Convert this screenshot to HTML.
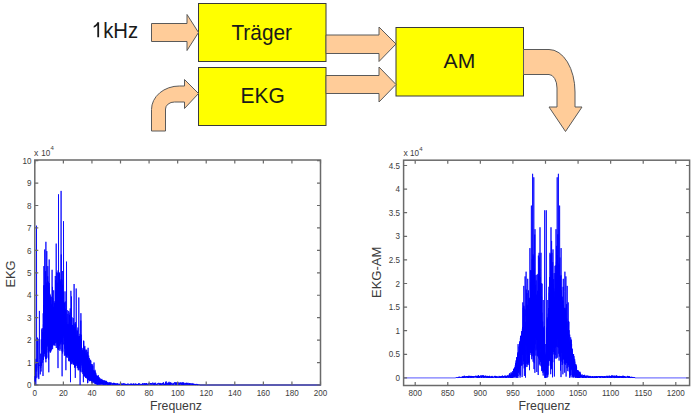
<!DOCTYPE html>
<html><head><meta charset="utf-8"><style>
html,body{margin:0;padding:0;background:#fff;width:697px;height:420px;overflow:hidden}
svg{display:block}
text{font-family:"Liberation Sans",sans-serif}
</style></head><body>
<svg width="697" height="420" viewBox="0 0 697 420">
<rect x="198.5" y="3.5" width="127.5" height="58" fill="#ffff00" stroke="#3a3a3a" stroke-width="1"/>
<rect x="198.5" y="67.5" width="127.5" height="58" fill="#ffff00" stroke="#3a3a3a" stroke-width="1"/>
<rect x="396" y="27.5" width="127.5" height="68.5" fill="#ffff00" stroke="#3a3a3a" stroke-width="1"/>
<path d="M151.5,23.5 H187 V14.5 L198.5,32.5 L187,50.5 V41.5 H151.5 Z" fill="#ffcc99" stroke="#5a5a5a" stroke-width="1"/>
<path d="M326,35 H379 V27 L396,44 L379,61.5 V53.5 H326 Z" fill="#ffcc99" stroke="#5a5a5a" stroke-width="1"/>
<path d="M326,75.5 H379 V67 L396,84.5 L379,102 V93.5 H326 Z" fill="#ffcc99" stroke="#5a5a5a" stroke-width="1"/>
<path d="M151.5,131 V109.5 A28,23.5 0 0 1 179.5,86 H184.5 V79.5 L198.5,93.5 L184.5,108.5 V102 H174.5 A9,7 0 0 0 165.5,109 V131 Z" fill="#ffcc99" stroke="#5a5a5a" stroke-width="1"/>
<path d="M523.5,49.5 H549 A26,42.5 0 0 1 575,92 V107 H582 L565.5,131.5 L549,107 H557 V88 A8,13.5 0 0 0 549,74.5 H523.5 Z" fill="#ffcc99" stroke="#5a5a5a" stroke-width="1"/>
<path d="M97.3,22.3 H99.1 V37.3 H97.3 V25.2 C96.3,26.2 95.1,27.1 93.7,27.8 V26.0 C95.3,25.2 96.6,23.9 97.3,22.3 Z" fill="#1a1a1a"/>
<text transform="translate(103.2,37.5) scale(0.94,1)" font-size="21.6" fill="#1a1a1a" >kHz</text>
<text transform="translate(231.4,39.6) scale(0.965,1)" font-size="21.6" fill="#1a1a1a" >Träger</text>
<text transform="translate(240.6,103.2) scale(0.99,1)" font-size="21.2" fill="#1a1a1a" >EKG</text>
<text x="443.6" y="68.4" font-size="21.1" fill="#1a1a1a" >AM</text>
<rect x="34.8" y="160.0" width="285.70" height="225.00" fill="none" stroke="#6a6a6a" stroke-width="1.5"/>
<polyline points="34.8,385.0 35.0,377.0 35.1,376.1 35.3,382.4 35.5,380.6 35.7,364.2 35.8,384.9 36.0,360.4 36.2,358.8 36.3,371.6 36.5,225.7 36.7,377.5 36.9,378.2 37.0,372.2 37.2,370.1 37.4,368.2 37.5,337.6 37.7,356.7 37.9,364.2 38.1,338.8 38.2,376.4 38.4,377.3 38.6,362.8 38.7,379.1 38.9,378.7 39.1,364.9 39.3,366.0 39.4,310.9 39.6,359.5 39.8,363.0 39.9,363.0 40.1,369.5 40.3,374.4 40.5,369.7 40.6,353.7 40.8,367.9 41.0,362.1 41.1,371.5 41.3,339.4 41.5,365.9 41.7,361.4 41.8,329.4 42.0,349.6 42.2,328.1 42.3,340.2 42.5,332.2 42.7,362.7 42.9,341.4 43.0,376.0 43.2,313.3 43.4,341.2 43.4,324.3 43.5,360.0 43.5,339.1 43.6,343.3 43.6,354.3 43.7,305.1 43.7,339.2 43.8,285.4 43.8,323.8 43.9,322.5 43.9,266.1 44.0,316.5 44.0,353.5 44.1,334.2 44.1,347.7 44.2,336.6 44.2,356.5 44.3,285.1 44.3,348.9 44.4,315.7 44.4,343.0 44.5,296.4 44.5,316.1 44.6,353.8 44.6,298.9 44.7,249.5 44.7,292.0 44.8,322.8 44.8,352.4 44.9,349.3 44.9,288.3 45.0,323.6 45.0,349.8 45.1,293.1 45.1,316.0 45.2,321.7 45.2,336.0 45.3,333.4 45.3,345.3 45.4,358.4 45.4,292.7 45.5,328.8 45.5,322.5 45.6,339.1 45.6,271.1 45.7,358.8 45.7,335.2 45.8,358.3 45.8,352.2 45.9,362.3 45.9,241.8 46.0,330.5 46.0,323.0 46.1,290.7 46.1,336.3 46.2,317.2 46.2,309.1 46.3,335.3 46.3,322.8 46.4,301.5 46.4,285.8 46.5,349.3 46.5,282.7 46.6,358.7 46.6,302.7 46.7,297.1 46.7,350.0 46.8,251.1 46.8,296.6 46.9,357.7 46.9,313.8 47.0,298.9 47.0,323.0 47.1,305.3 47.1,343.6 47.2,345.4 47.2,334.0 47.3,346.5 47.3,335.1 47.4,281.3 47.4,318.2 47.5,335.4 47.5,340.1 47.6,280.9 47.6,327.9 47.7,276.3 47.7,322.6 47.8,322.1 47.8,266.1 47.9,303.9 47.9,317.5 48.0,329.0 48.0,290.5 48.1,330.0 48.1,285.3 48.2,352.5 48.2,328.6 48.3,322.0 48.3,281.7 48.4,340.7 48.4,298.2 48.5,309.7 48.5,306.3 48.6,313.5 48.6,359.6 48.7,335.0 48.7,330.5 48.8,372.3 48.8,352.8 48.9,342.7 48.9,286.8 49.0,295.0 49.0,348.7 49.1,315.4 49.1,324.7 49.2,259.5 49.2,311.8 49.3,336.6 49.3,283.1 49.4,326.4 49.4,315.1 49.5,314.8 49.5,344.3 49.6,351.3 49.6,330.6 49.7,305.9 49.7,301.9 49.8,309.2 49.8,348.3 49.9,293.8 49.9,304.4 50.0,298.1 50.0,324.6 50.1,294.9 50.1,351.5 50.2,352.3 50.2,352.8 50.3,340.6 50.3,340.8 50.4,344.1 50.4,322.7 50.5,351.5 50.5,321.5 50.6,345.1 50.6,316.2 50.7,352.1 50.7,337.7 50.8,296.5 50.8,325.3 50.9,307.9 50.9,318.4 51.0,321.4 51.0,343.7 51.1,323.8 51.1,350.7 51.2,309.9 51.2,296.9 51.3,306.3 51.3,349.9 51.4,336.4 51.4,337.4 51.5,347.0 51.5,321.0 51.6,310.3 51.6,337.4 51.7,305.5 51.7,310.2 51.8,345.8 51.8,312.2 51.9,303.9 51.9,342.5 52.0,323.7 52.0,319.9 52.1,269.8 52.1,346.8 52.2,318.5 52.2,320.2 52.3,308.1 52.3,309.5 52.4,335.9 52.4,314.7 52.5,304.9 52.5,286.9 52.6,343.3 52.6,349.2 52.7,318.8 52.7,340.7 52.8,323.6 52.8,298.2 52.9,332.9 52.9,338.8 53.0,328.9 53.0,318.2 53.1,345.3 53.1,332.5 53.2,343.8 53.2,317.8 53.3,307.2 53.3,332.5 53.4,332.7 53.4,324.3 53.5,339.8 53.5,338.3 53.6,334.5 53.6,328.3 53.7,290.3 53.7,312.1 53.8,322.0 53.8,335.6 53.9,345.3 53.9,311.4 54.0,342.8 54.0,342.7 54.1,342.7 54.1,344.8 54.2,301.3 54.2,336.5 54.3,334.8 54.3,306.7 54.4,319.5 54.4,340.3 54.5,329.0 54.5,303.1 54.6,331.9 54.6,314.5 54.7,344.3 54.7,313.6 54.8,310.6 54.8,307.1 54.9,316.2 54.9,331.8 55.0,345.9 55.0,323.9 55.1,309.4 55.1,340.0 55.2,336.3 55.2,321.8 55.3,276.0 55.3,296.4 55.4,343.0 55.4,340.0 55.5,302.8 55.5,313.3 55.6,307.7 55.6,280.3 55.7,288.0 55.7,296.8 55.8,301.8 55.8,327.4 55.9,311.1 55.9,339.4 56.0,301.4 56.0,301.2 56.1,303.7 56.1,323.1 56.2,327.2 56.2,243.6 56.3,348.0 56.3,291.5 56.4,315.9 56.4,326.5 56.5,315.5 56.5,302.3 56.6,326.9 56.6,292.7 56.7,283.4 56.7,326.6 56.8,342.3 56.8,298.9 56.9,272.2 56.9,341.8 57.0,302.9 57.0,293.0 57.1,282.9 57.1,343.4 57.2,345.3 57.2,273.0 57.3,343.9 57.3,340.3 57.4,313.6 57.4,322.9 57.5,299.6 57.5,339.6 57.6,283.3 57.6,338.0 57.7,297.9 57.7,347.2 57.8,321.0 57.8,349.4 57.9,331.9 57.9,332.1 58.0,368.1 58.0,322.4 58.1,348.2 58.1,270.4 58.2,285.9 58.2,282.6 58.3,336.5 58.3,326.7 58.4,337.8 58.4,344.3 58.5,350.0 58.5,194.3 58.6,344.5 58.6,341.2 58.7,288.6 58.7,320.5 58.8,340.9 58.8,306.1 58.9,335.6 58.9,317.3 59.0,334.5 59.0,318.2 59.1,309.5 59.1,316.7 59.2,326.9 59.2,295.3 59.3,286.9 59.3,341.5 59.4,344.3 59.4,345.8 59.5,272.5 59.5,278.4 59.6,338.3 59.6,274.0 59.7,339.9 59.7,319.0 59.8,319.7 59.8,281.7 59.9,350.8 59.9,332.8 60.0,311.7 60.0,349.3 60.1,338.2 60.1,322.2 60.2,285.5 60.2,297.8 60.3,291.1 60.3,297.7 60.4,302.6 60.4,288.8 60.5,304.9 60.5,300.0 60.6,334.1 60.6,343.2 60.7,298.5 60.7,343.5 60.8,281.3 60.8,312.6 60.9,332.6 60.9,279.5 61.0,344.5 61.0,319.4 61.1,190.9 61.1,275.8 61.2,315.0 61.2,295.3 61.3,254.5 61.3,295.7 61.4,304.9 61.4,310.0 61.5,279.1 61.5,326.3 61.6,327.7 61.6,306.4 61.7,293.2 61.7,333.5 61.8,308.6 61.8,342.0 61.9,318.2 61.9,300.2 62.0,351.3 62.0,304.2 62.1,376.3 62.1,279.8 62.2,324.9 62.2,329.2 62.3,305.4 62.3,321.1 62.4,304.7 62.4,350.6 62.5,318.5 62.5,318.9 62.6,284.7 62.6,353.5 62.7,326.8 62.7,271.0 62.8,319.9 62.8,351.6 62.9,316.9 62.9,342.6 63.0,344.3 63.0,292.2 63.1,344.3 63.1,327.5 63.2,304.8 63.2,308.6 63.3,320.7 63.3,300.1 63.4,327.1 63.4,316.1 63.5,299.8 63.5,221.2 63.6,315.3 63.6,332.1 63.7,321.9 63.7,333.1 63.8,308.3 63.8,334.5 63.9,329.1 63.9,308.3 64.0,327.0 64.0,337.8 64.1,303.2 64.1,335.5 64.2,302.3 64.2,307.8 64.3,331.9 64.3,314.1 64.4,355.7 64.4,336.0 64.5,303.1 64.5,324.5 64.6,326.2 64.6,319.3 64.7,318.7 64.7,325.3 64.8,335.4 64.8,348.6 64.9,342.9 64.9,343.1 65.0,335.7 65.0,291.4 65.1,340.4 65.1,335.4 65.2,339.7 65.2,328.1 65.3,301.5 65.3,307.6 65.4,340.2 65.4,345.9 65.5,309.3 65.5,334.7 65.6,324.0 65.6,355.5 65.7,312.5 65.7,344.6 65.8,335.8 65.8,350.3 65.9,370.2 65.9,317.4 66.0,317.8 66.0,338.1 66.1,322.4 66.1,339.3 66.2,343.4 66.2,335.5 66.3,351.1 66.3,346.2 66.4,327.2 66.4,323.6 66.5,357.2 66.5,261.6 66.6,320.8 66.6,340.7 66.7,357.2 66.7,328.8 66.8,349.7 66.8,331.0 66.9,344.0 66.9,331.4 67.0,349.3 67.0,339.5 67.1,337.2 67.1,331.9 67.2,351.9 67.2,310.1 67.3,348.2 67.3,347.5 67.4,349.8 67.4,357.7 67.5,342.4 67.5,324.2 67.6,327.9 67.6,352.6 67.7,355.1 67.7,347.2 67.8,324.6 67.8,339.6 67.9,314.0 67.9,331.1 68.0,333.0 68.0,324.8 68.1,325.9 68.1,346.5 68.2,350.4 68.2,342.3 68.3,339.9 68.3,355.5 68.4,342.3 68.4,332.4 68.5,355.8 68.5,355.8 68.6,354.3 68.6,349.7 68.7,310.9 68.7,360.6 68.8,354.1 68.8,354.9 68.9,341.1 68.9,361.2 69.0,341.9 69.0,355.2 69.1,350.6 69.1,324.0 69.2,354.4 69.2,334.1 69.3,344.6 69.3,344.1 69.4,322.6 69.4,355.6 69.5,314.9 69.5,317.3 69.6,331.6 69.6,360.5 69.7,332.0 69.7,335.4 69.8,325.7 69.8,353.7 69.9,312.5 69.9,318.1 70.0,358.1 70.0,349.4 70.1,361.6 70.1,322.2 70.2,316.0 70.2,308.4 70.3,335.2 70.3,332.3 70.4,331.6 70.4,337.5 70.5,382.2 70.5,335.6 70.6,349.0 70.6,340.6 70.7,362.7 70.7,329.5 70.8,331.3 70.8,345.4 70.9,321.7 70.9,290.8 71.0,349.5 71.0,360.6 71.1,358.4 71.1,356.3 71.2,351.2 71.2,344.7 71.3,316.8 71.3,352.5 71.4,319.3 71.4,333.2 71.5,322.8 71.5,296.5 71.6,364.2 71.6,327.4 71.7,354.3 71.7,358.7 71.8,326.9 71.8,333.6 71.9,356.0 71.9,353.7 72.0,317.3 72.0,353.8 72.1,333.1 72.1,359.7 72.2,326.7 72.2,360.3 72.3,343.0 72.3,363.6 72.4,341.5 72.4,325.1 72.5,361.8 72.5,354.1 72.6,330.5 72.6,339.0 72.7,352.7 72.7,338.1 72.8,346.6 72.8,324.9 72.9,353.8 72.9,331.5 73.0,338.2 73.0,332.7 73.1,350.4 73.1,333.7 73.2,335.3 73.2,350.2 73.3,364.9 73.3,318.1 73.4,334.8 73.4,358.1 73.5,334.1 73.5,355.2 73.6,347.1 73.6,326.7 73.7,348.2 73.7,355.1 73.8,354.4 73.8,363.5 73.9,358.0 73.9,356.0 74.0,360.0 74.0,364.2 74.1,284.0 74.1,358.5 74.2,334.9 74.2,323.5 74.3,356.4 74.3,343.5 74.4,346.6 74.4,364.2 74.5,362.4 74.5,326.9 74.6,367.7 74.6,332.1 74.7,364.8 74.7,343.1 74.8,328.7 74.8,328.7 74.9,367.2 74.9,346.8 75.0,353.4 75.0,335.4 75.1,364.9 75.1,357.7 75.2,332.7 75.2,349.5 75.3,377.9 75.3,322.1 75.4,355.9 75.4,366.4 75.5,353.1 75.5,362.5 75.6,365.1 75.6,345.9 75.7,324.4 75.7,345.5 75.8,342.5 75.8,356.4 75.9,346.1 75.9,337.6 76.0,345.5 76.0,335.1 76.1,347.4 76.1,361.5 76.2,346.1 76.2,288.5 76.3,306.8 76.3,344.8 76.4,335.0 76.4,364.1 76.5,348.3 76.5,339.7 76.6,354.3 76.6,359.5 76.7,355.6 76.7,348.9 76.8,342.5 76.8,348.3 76.9,365.6 76.9,336.2 77.0,329.8 77.0,366.0 77.1,360.8 77.1,363.6 77.2,335.0 77.2,331.4 77.3,368.2 77.3,358.1 77.4,363.2 77.4,353.0 77.5,331.2 77.5,367.6 77.6,364.2 77.6,352.6 77.7,351.2 77.7,341.6 77.8,354.8 77.8,365.5 77.9,358.1 77.9,327.5 78.0,341.8 78.0,366.6 78.1,339.2 78.1,360.0 78.2,340.8 78.2,370.2 78.3,336.2 78.3,365.3 78.4,355.0 78.4,346.8 78.5,353.2 78.5,365.5 78.6,366.4 78.6,361.6 78.7,369.3 78.7,364.0 78.8,366.9 78.8,297.5 78.9,359.4 78.9,350.8 79.0,362.1 79.0,370.3 79.1,360.5 79.1,344.0 79.2,363.2 79.2,358.2 79.3,344.3 79.3,358.2 79.4,337.8 79.4,336.1 79.5,361.8 79.5,345.7 79.6,363.8 79.6,367.6 79.7,357.7 79.7,351.6 79.8,335.9 79.8,367.6 79.9,347.4 79.9,356.7 80.0,368.2 80.0,333.8 80.1,384.9 80.1,368.5 80.2,338.7 80.2,369.4 80.3,369.7 80.3,362.2 80.4,337.1 80.4,371.7 80.5,338.6 80.5,352.7 80.6,370.8 80.6,354.4 80.7,358.4 80.7,354.8 80.8,320.6 80.8,350.6 80.9,333.3 80.9,313.2 81.0,331.1 81.0,360.6 81.1,346.6 81.1,341.5 81.2,334.7 81.2,365.5 81.3,359.5 81.3,339.0 81.4,338.9 81.4,362.4 81.5,339.5 81.5,361.4 81.6,362.5 81.6,348.9 81.7,359.5 81.7,360.3 81.8,362.4 81.8,361.0 81.9,370.0 81.9,372.3 82.0,349.6 82.0,356.9 82.1,353.1 82.1,347.9 82.2,367.7 82.2,367.7 82.3,366.4 82.3,365.7 82.4,350.1 82.4,363.7 82.5,365.3 82.5,355.2 82.6,369.5 82.6,371.8 82.7,353.2 82.7,351.0 82.8,366.5 82.8,355.7 82.9,374.0 82.9,363.5 83.0,358.0 83.0,368.1 83.1,365.4 83.1,357.1 83.2,357.9 83.2,371.1 83.3,353.9 83.3,373.2 83.4,382.2 83.4,370.0 83.5,368.6 83.5,370.2 83.6,340.6 83.6,367.9 83.7,358.2 83.7,341.0 83.8,344.1 83.8,374.7 83.9,361.3 83.9,358.8 84.0,355.4 84.0,367.0 84.1,367.3 84.1,376.0 84.2,375.3 84.2,360.9 84.3,374.3 84.3,371.1 84.4,367.6 84.4,374.6 84.5,375.7 84.5,347.1 84.6,364.9 84.6,371.4 84.7,356.4 84.7,376.4 84.8,370.5 84.8,345.9 84.9,349.3 84.9,359.3 85.0,374.6 85.0,368.8 85.1,376.3 85.1,371.6 85.2,376.5 85.2,374.1 85.3,360.0 85.3,374.8 85.4,373.5 85.4,350.4 85.5,369.0 85.5,369.1 85.6,375.4 85.6,377.9 85.7,359.4 85.7,363.5 85.8,361.5 85.8,375.4 85.9,371.5 85.9,362.8 86.0,349.4 86.0,355.4 86.1,361.4 86.1,365.0 86.2,377.7 86.2,353.0 86.3,376.6 86.3,375.2 86.4,360.4 86.4,356.5 86.5,357.5 86.5,367.5 86.6,374.4 86.6,377.7 86.7,355.7 86.7,350.0 86.8,373.1 86.8,355.5 86.9,369.4 86.9,371.7 87.0,366.9 87.0,378.7 87.1,368.7 87.1,374.6 87.2,361.5 87.2,367.4 87.3,356.5 87.3,355.6 87.4,372.2 87.4,373.1 87.5,354.1 87.5,383.2 87.6,377.3 87.6,378.5 87.7,351.8 87.7,366.3 87.8,382.9 87.8,368.2 87.9,368.5 87.9,370.3 88.0,354.9 88.0,355.2 88.1,347.8 88.1,376.8 88.2,371.3 88.2,360.1 88.3,366.2 88.3,363.4 88.4,367.6 88.4,375.9 88.5,361.1 88.5,380.0 88.6,364.8 88.6,376.5 88.7,370.6 88.7,355.6 88.8,369.2 88.8,379.4 88.9,371.8 88.9,366.4 89.0,379.6 89.0,375.8 89.1,380.4 89.1,369.7 89.2,373.3 89.2,370.7 89.3,375.2 89.3,367.2 89.4,377.8 89.4,381.2 89.5,358.2 89.5,371.4 89.6,372.1 89.6,362.2 89.7,375.9 89.7,364.1 89.8,376.0 89.8,366.6 89.9,375.2 89.9,369.6 90.0,360.7 90.0,380.7 90.1,364.7 90.1,371.3 90.2,374.8 90.2,375.4 90.3,380.7 90.3,377.3 90.4,369.9 90.4,380.3 90.5,369.0 90.5,360.5 90.6,359.8 90.6,363.4 90.7,365.9 90.7,379.2 90.8,360.8 90.8,378.9 90.9,364.6 90.9,364.4 91.0,371.0 91.0,373.2 91.1,379.3 91.1,373.4 91.2,377.8 91.2,380.7 91.3,380.7 91.3,367.4 91.4,364.0 91.4,380.7 91.5,382.8 91.5,378.7 91.6,380.9 91.6,380.1 91.7,373.0 91.7,376.1 91.8,376.0 91.8,380.0 91.9,371.6 91.9,378.6 92.0,376.8 92.0,375.7 92.1,366.1 92.1,379.5 92.2,370.9 92.2,378.5 92.3,366.8 92.3,377.2 92.4,375.3 92.4,367.6 92.5,372.3 92.5,382.0 92.6,381.4 92.6,364.3 92.7,383.0 92.7,379.0 92.8,365.9 92.8,383.3 92.9,381.2 92.9,380.5 93.0,382.3 93.0,376.6 93.1,374.6 93.1,379.1 93.2,382.1 93.2,370.7 93.3,370.9 93.3,375.5 93.4,381.8 93.4,375.9 93.5,374.5 93.5,377.8 93.6,370.2 93.6,378.4 93.7,376.7 93.7,382.3 93.8,376.0 93.8,372.6 93.9,373.4 93.9,380.5 94.0,362.5 94.0,373.8 94.1,378.4 94.1,378.6 94.2,373.0 94.2,381.7 94.3,375.5 94.3,374.3 94.4,377.4 94.4,371.7 94.5,378.2 94.5,378.3 94.6,380.6 94.6,371.1 94.7,380.3 94.7,375.3 94.8,379.3 94.8,371.2 94.9,371.0 94.9,383.7 95.0,369.8 95.0,377.0 95.1,383.3 95.1,378.5 95.2,383.6 95.2,378.0 95.3,382.2 95.3,380.3 95.4,381.0 95.4,377.6 95.5,374.6 95.5,372.7 95.6,380.9 95.6,378.3 95.7,384.1 95.7,380.6 95.8,372.8 95.8,383.1 95.9,374.7 95.9,377.7 96.0,381.6 96.0,376.3 96.1,381.7 96.1,374.8 96.2,383.6 96.2,383.3 96.3,377.0 96.3,380.3 96.4,383.1 96.4,379.8 96.5,381.8 96.5,379.5 96.6,377.4 96.6,376.0 96.7,383.9 96.7,379.2 96.8,384.6 96.8,380.5 96.9,377.3 96.9,383.7 97.0,376.1 97.0,379.5 97.1,376.0 97.1,377.4 97.2,376.4 97.2,384.1 97.3,378.3 97.3,383.0 97.4,382.5 97.4,382.1 97.5,379.7 97.5,379.4 97.6,375.9 97.6,384.6 97.7,383.2 97.7,381.9 97.8,377.6 97.8,380.4 97.9,380.7 97.9,378.4 98.0,384.9 98.0,382.6 98.1,384.1 98.1,381.3 98.2,377.3 98.2,375.1 98.3,384.4 98.3,381.6 98.4,382.1 98.4,380.5 98.5,380.5 98.5,376.7 98.6,382.5 98.6,382.0 98.7,380.4 98.7,377.8 98.8,379.7 98.8,381.7 98.9,378.7 98.9,381.6 99.0,377.0 99.0,383.1 99.1,384.2 99.1,378.8 99.2,383.1 99.3,378.8 99.4,381.0 99.5,381.8 99.7,384.5 99.8,379.8 99.9,384.6 100.0,378.2 100.1,379.3 100.2,383.4 100.3,384.3 100.5,379.4 100.6,382.4 100.7,384.4 100.8,382.3 100.9,383.8 101.0,382.9 101.1,381.5 101.3,379.5 101.4,380.5 101.5,384.2 101.6,382.6 101.7,382.6 101.8,378.9 101.9,384.6 102.1,382.5 102.2,379.9 102.3,383.1 102.4,383.8 102.5,382.4 102.6,383.6 102.7,380.1 102.9,384.6 103.0,384.1 103.1,384.7 103.2,381.7 103.3,383.8 103.4,380.6 103.5,380.7 103.7,380.4 103.8,384.0 103.9,385.0 104.0,383.5 104.1,380.4 104.2,381.8 104.3,384.8 104.5,382.2 104.6,381.0 104.7,380.6 104.8,382.2 104.9,381.5 105.0,381.6 105.1,383.8 105.3,384.7 105.4,382.3 105.5,384.6 105.6,383.7 105.7,380.8 105.8,383.1 105.9,383.3 106.1,381.3 106.2,384.1 106.3,380.9 106.4,381.6 106.5,383.9 106.6,384.0 106.7,384.6 106.9,381.8 107.0,384.5 107.1,385.0 107.2,382.0 107.3,383.2 107.4,383.0 107.5,382.8 107.7,384.9 107.8,384.8 107.9,383.6 108.0,384.9 108.1,383.6 108.2,382.9 108.3,383.2 108.5,383.3 108.6,384.9 108.7,384.4 108.8,382.4 108.9,384.7 109.0,383.7 109.1,384.9 109.3,382.4 109.4,384.6 109.5,384.1 109.6,383.7 109.7,383.3 109.8,382.6 109.9,383.3 110.1,384.3 110.2,384.9 110.3,383.4 110.4,382.5 110.5,385.0 110.6,383.3 110.7,384.7 110.9,384.1 111.0,383.9 111.1,383.7 111.2,382.5 111.3,383.5 111.4,384.2 111.5,383.5 111.7,384.1 111.8,384.2 111.9,384.3 112.0,384.0 112.1,384.5 112.2,384.5 112.3,384.7 112.5,384.2 112.6,384.5 112.7,383.2 112.8,383.2 112.9,384.4 113.0,383.8 113.1,383.0 113.3,384.3 113.4,383.9 113.5,384.2 113.6,383.7 113.7,382.9 113.8,384.8 113.9,382.8 114.1,383.7 114.2,383.4 114.3,383.8 114.4,383.2 114.5,384.4 114.6,383.6 114.7,384.5 114.9,384.1 115.0,383.7 115.1,384.7 115.2,384.9 115.3,383.5 115.4,383.4 115.5,383.8 115.7,384.5 115.8,383.8 115.9,384.9 116.0,383.8 116.1,384.0 116.2,383.9 116.3,384.3 116.5,384.6 116.6,383.7 116.7,384.2 116.8,383.7 116.9,384.4 117.0,384.9 117.1,384.1 117.3,384.0 117.4,383.3 117.5,383.4 117.6,384.9 117.7,385.0 117.8,384.6 117.9,383.8 118.1,384.4 118.2,384.5 118.3,384.2 118.4,384.2 118.5,383.9 118.6,384.0 118.7,383.9 118.9,384.4 119.0,383.9 119.1,384.5 119.2,384.1 119.3,384.3 119.4,384.2 119.5,385.0 119.7,384.3 119.8,384.7 119.9,384.5 120.0,384.9 120.1,384.0 120.2,383.5 120.3,384.5 120.5,384.9 120.5,384.1 120.7,384.8 120.8,383.6 120.9,384.8 121.1,384.5 121.2,384.3 121.4,384.8 121.5,384.6 121.7,384.6 121.8,384.0 121.9,383.3 122.1,384.5 122.2,383.8 122.4,384.8 122.5,384.2 122.7,384.4 122.8,384.6 122.9,383.8 123.1,383.9 123.2,384.8 123.4,384.6 123.5,383.8 123.7,383.3 123.8,384.2 123.9,383.7 124.1,383.4 124.2,383.9 124.4,384.1 124.5,384.7 124.7,384.5 124.8,384.2 124.9,383.6 125.1,385.0 125.2,384.5 125.4,385.0 125.5,384.0 125.7,384.4 125.8,383.9 125.9,384.7 126.1,384.1 126.2,384.1 126.4,384.4 126.5,384.8 126.7,384.5 126.8,384.0 126.9,384.8 127.1,384.9 127.2,384.4 127.4,384.7 127.5,383.9 127.7,383.9 127.8,383.6 127.9,383.8 128.1,384.2 128.2,384.8 128.4,383.9 128.5,384.0 128.7,384.0 128.8,384.1 128.9,383.9 129.1,384.6 129.2,384.1 129.4,384.4 129.5,384.6 129.7,384.6 129.8,384.8 129.9,384.4 130.1,384.6 130.2,385.0 130.4,383.9 130.5,384.1 130.7,384.1 130.8,383.6 130.9,384.8 131.1,384.4 131.2,384.9 131.4,384.5 131.5,383.7 131.7,384.9 131.8,384.0 131.9,383.9 132.1,384.4 132.2,384.0 132.4,384.5 132.5,384.6 132.7,384.4 132.8,384.8 132.9,384.7 133.1,384.7 133.2,383.6 133.4,384.6 133.5,384.8 133.7,383.7 133.8,384.9 133.9,383.7 134.1,383.9 134.2,384.2 134.4,384.5 134.5,384.8 134.7,384.9 134.8,384.9 134.9,384.6 135.1,384.6 135.2,383.8 135.4,384.4 135.5,383.6 135.7,384.2 135.8,384.9 135.9,384.4 136.1,384.8 136.2,385.0 136.4,383.8 136.5,384.6 136.7,384.8 136.8,384.9 136.9,384.3 137.1,384.5 137.2,385.0 137.4,384.2 137.5,384.7 137.7,384.1 137.8,384.5 137.9,384.4 138.1,384.5 138.2,384.2 138.4,383.6 138.5,384.0 138.7,384.9 138.8,383.3 138.9,384.7 139.1,384.9 139.2,384.8 139.4,384.7 139.5,383.6 139.7,384.0 139.8,383.8 139.9,384.1 140.1,384.6 140.2,384.5 140.4,384.5 140.5,384.6 140.7,384.5 140.8,383.9 140.9,384.9 141.1,384.7 141.2,384.4 141.4,384.1 141.5,384.1 141.7,384.0 141.8,384.9 141.9,384.8 142.1,384.6 142.2,384.6 142.4,383.9 142.5,383.2 142.7,384.0 142.8,385.0 142.9,384.6 143.1,383.7 143.2,383.4 143.4,384.1 143.5,384.5 143.7,384.5 143.8,384.0 143.9,383.5 144.1,384.5 144.2,384.7 144.4,385.0 144.5,384.8 144.7,383.5 144.8,384.0 144.9,383.0 145.1,384.9 145.2,384.4 145.4,383.6 145.5,383.9 145.7,384.9 145.8,384.3 145.9,383.9 146.1,383.8 146.2,384.2 146.4,384.7 146.5,383.0 146.7,384.2 146.8,383.7 146.9,384.0 147.1,384.9 147.2,384.6 147.4,384.9 147.5,384.7 147.7,384.7 147.8,384.3 147.9,384.4 148.1,384.3 148.2,383.3 148.4,385.0 148.5,384.8 148.7,383.3 148.8,384.0 148.9,384.2 149.1,384.5 149.2,383.9 149.4,384.6 149.5,383.1 149.7,383.2 149.8,384.4 149.9,385.0 150.1,383.0 150.2,384.4 150.4,383.6 150.5,383.1 150.7,383.3 150.8,383.1 150.9,384.0 151.1,383.1 151.2,384.1 151.4,384.5 151.5,384.0 151.7,384.3 151.8,383.3 151.9,383.1 152.1,384.7 152.2,384.7 152.4,384.2 152.5,384.0 152.7,382.6 152.8,382.7 152.9,382.6 153.1,383.4 153.2,383.5 153.4,384.5 153.5,384.2 153.7,385.0 153.8,383.0 153.9,384.4 154.1,384.8 154.2,384.4 154.4,384.3 154.5,383.3 154.7,385.0 154.8,385.0 154.9,382.8 155.1,382.9 155.2,383.6 155.4,383.8 155.5,384.5 155.7,382.8 155.8,383.2 155.9,383.9 156.1,384.7 156.2,384.5 156.4,384.2 156.5,384.3 156.7,384.9 156.8,384.1 156.9,384.0 157.1,384.4 157.2,384.2 157.4,384.3 157.5,384.2 157.7,383.5 157.8,383.9 157.9,384.6 158.1,383.0 158.2,383.8 158.4,384.0 158.5,383.3 158.7,383.1 158.8,382.8 158.9,382.9 159.1,383.4 159.2,383.2 159.4,384.7 159.5,383.3 159.7,384.4 159.8,384.4 159.9,384.7 160.1,384.1 160.2,385.0 160.4,383.4 160.5,383.1 160.7,383.0 160.8,384.7 160.9,383.4 161.1,385.0 161.2,384.9 161.4,384.6 161.5,384.4 161.7,383.9 161.8,384.6 161.9,383.7 162.1,384.2 162.2,383.3 162.4,383.7 162.5,383.2 162.7,384.4 162.8,383.1 162.9,383.0 163.1,383.1 163.2,384.8 163.4,382.2 163.5,383.5 163.7,384.3 163.8,383.9 163.9,383.7 164.1,383.7 164.2,384.4 164.4,384.4 164.5,384.1 164.7,385.0 164.8,383.9 164.9,384.9 165.1,383.8 165.2,384.5 165.4,385.0 165.5,381.9 165.7,384.3 165.8,383.6 165.9,384.1 166.1,384.9 166.2,381.4 166.4,382.1 166.5,384.5 166.7,383.9 166.8,384.0 166.9,384.6 167.1,383.2 167.2,382.8 167.4,382.9 167.5,383.2 167.7,385.0 167.8,384.4 167.9,383.7 168.1,383.1 168.2,384.0 168.4,383.9 168.5,382.6 168.7,384.9 168.8,384.3 168.9,384.3 169.1,381.8 169.2,384.5 169.4,384.9 169.5,384.0 169.7,383.3 169.8,384.6 169.9,382.6 170.1,384.5 170.2,383.1 170.4,384.6 170.5,382.5 170.7,384.5 170.8,383.1 170.9,382.7 171.1,384.4 171.2,384.8 171.4,383.5 171.5,383.8 171.7,383.8 171.8,382.9 171.9,383.9 172.1,383.8 172.2,383.8 172.4,383.9 172.5,384.0 172.7,385.0 172.8,384.3 172.9,384.4 173.1,384.4 173.2,382.9 173.4,384.7 173.5,384.5 173.7,383.7 173.8,384.3 173.9,384.5 174.1,384.1 174.2,383.8 174.4,383.3 174.5,382.2 174.7,382.7 174.8,384.0 174.9,383.9 175.1,384.0 175.2,384.5 175.4,382.3 175.5,384.8 175.7,384.5 175.8,383.4 175.9,383.6 176.1,384.4 176.2,382.4 176.4,384.1 176.5,383.6 176.7,384.8 176.8,382.6 176.9,384.8 177.1,384.1 177.2,382.7 177.4,382.4 177.5,382.6 177.7,382.9 177.8,384.5 177.9,384.9 178.1,384.0 178.2,384.9 178.4,382.4 178.5,385.0 178.6,384.3 178.8,384.6 178.9,385.0 179.1,383.9 179.2,384.8 179.4,382.7 179.5,383.4 179.6,384.2 179.8,382.9 179.9,383.1 180.1,384.3 180.2,382.9 180.4,382.6 180.5,383.6 180.6,384.2 180.8,382.7 180.9,382.5 181.1,384.3 181.2,384.8 181.4,382.8 181.5,383.5 181.6,384.5 181.8,383.7 181.9,384.4 182.1,382.7 182.2,384.3 182.4,384.6 182.5,384.9 182.6,384.3 182.8,382.3 182.9,384.6 183.1,384.0 183.2,382.5 183.4,385.0 183.5,384.4 183.6,383.1 183.8,384.8 183.9,382.7 184.1,383.0 184.2,384.7 184.4,383.7 184.5,383.8 184.6,383.5 184.8,384.4 184.9,384.2 185.1,384.5 185.2,384.4 185.4,384.7 185.5,382.9 185.6,383.0 185.8,384.3 185.9,383.6 186.1,384.0 186.2,384.5 186.4,384.3 186.5,382.8 186.6,384.4 186.8,383.9 186.9,382.9 187.1,384.5 187.2,383.4 187.4,384.8 187.5,383.6 187.6,383.4 187.8,383.3 187.9,382.9 188.1,383.7 188.2,382.9 188.4,384.5 188.5,384.1 188.6,384.7 188.8,384.9 188.9,384.3 189.1,383.7 189.2,383.6 189.4,385.0 189.5,383.2 189.6,384.6 189.8,384.6 189.9,383.6 190.1,383.4 190.2,383.8 190.4,384.5 190.5,384.3 190.6,383.6 190.8,384.5 190.9,383.7 191.1,383.8 191.2,384.3 191.4,383.5 191.5,384.5 191.6,383.9 191.8,384.1 191.9,384.6 192.1,384.3 192.2,384.2 192.4,384.3 192.5,384.9 192.6,383.4 192.8,383.5 192.9,385.0 193.1,383.6 193.2,384.3 193.4,384.9 193.5,383.9 193.6,384.5 193.8,384.1 193.9,384.0 194.1,384.4 194.2,384.9 194.4,384.0 194.5,384.2 194.6,383.9 194.8,384.7 194.9,384.1 195.1,384.0 195.2,384.7 195.4,384.6 195.5,384.7 195.6,385.0 195.8,385.0 195.9,384.7 196.1,384.9 196.2,384.3 196.4,384.7 196.5,384.6 196.6,384.8 196.8,383.9 196.9,384.5 197.1,384.7 197.2,384.6 197.4,384.1 197.5,384.7 197.6,385.0 197.8,384.9 197.9,384.8 198.1,384.7 198.2,385.0 198.4,385.0 198.5,384.8 198.6,384.9 198.8,384.7 198.9,384.7 199.1,384.8 199.2,384.7 199.4,385.0 199.5,384.9 199.6,384.9 199.8,384.9 199.9,384.9 200.1,385.0 200.2,385.0 200.4,385.0 200.5,385.0 200.6,385.0 200.8,385.0 200.9,385.0 201.1,385.0 201.2,385.0 201.4,385.0 201.5,385.0 201.6,385.0 201.8,385.0 201.9,385.0 202.1,385.0 202.2,385.0 202.4,385.0 202.5,385.0 202.6,385.0 202.8,385.0 202.9,385.0 203.1,385.0 203.2,385.0 203.4,385.0 203.5,385.0 203.6,385.0 203.8,385.0 203.9,385.0 204.1,385.0 204.2,385.0 204.4,385.0 204.5,385.0 204.6,385.0 204.8,385.0 204.9,385.0 205.1,385.0 205.2,385.0 205.4,385.0 205.5,385.0 205.6,385.0 205.8,385.0 205.9,385.0 206.1,385.0 206.2,385.0 206.4,385.0 206.5,385.0 206.6,385.0 206.8,385.0 206.9,385.0 207.1,385.0 207.2,385.0 207.4,385.0 207.5,385.0 207.6,385.0 207.8,385.0 207.9,385.0 208.1,385.0 208.2,385.0 208.4,385.0 208.5,385.0 208.6,385.0 208.8,385.0 208.9,385.0 209.1,385.0 209.2,385.0 209.4,385.0 209.5,385.0 209.6,385.0 209.8,385.0 209.9,385.0 210.1,385.0 210.2,385.0 210.4,385.0 210.5,385.0 210.6,385.0 210.8,385.0 210.9,385.0 211.1,385.0 211.2,385.0 211.4,385.0 211.5,385.0 211.6,385.0 211.8,385.0 211.9,385.0 212.1,385.0 212.2,385.0 212.4,385.0 212.5,385.0 212.6,385.0 212.8,385.0 212.9,385.0 213.1,385.0 213.2,385.0 213.4,385.0 213.5,385.0 213.6,385.0 213.8,385.0 213.9,385.0 214.1,385.0 214.2,385.0 214.4,385.0 214.5,385.0 214.6,385.0 214.8,385.0 214.9,385.0 215.1,385.0 215.2,385.0 215.4,385.0 215.5,385.0 215.6,385.0 215.8,385.0 215.9,385.0 216.1,385.0 216.2,385.0 216.4,385.0 216.5,385.0 216.6,385.0 216.8,385.0 216.9,385.0 217.1,385.0 217.2,385.0 217.4,385.0 217.5,385.0 217.6,385.0 217.8,385.0 217.9,385.0 218.1,385.0 218.2,385.0 218.4,385.0 218.5,385.0 218.6,385.0 218.8,385.0 218.9,385.0 219.1,385.0 219.2,385.0 219.4,385.0 219.5,385.0 219.6,385.0 219.8,385.0 219.9,385.0 220.1,385.0 220.2,385.0 220.4,385.0 220.5,385.0 220.6,385.0 220.8,385.0 220.9,385.0 221.1,385.0 221.2,385.0 221.4,385.0 221.5,385.0 221.6,385.0 221.8,385.0 221.9,385.0 222.1,385.0 222.2,385.0 222.4,385.0 222.5,385.0 222.6,385.0 222.8,385.0 222.9,385.0 223.1,385.0 223.2,385.0 223.4,385.0 223.5,385.0 223.6,385.0 223.8,385.0 223.9,385.0 224.1,385.0 224.2,385.0 224.4,385.0 224.5,385.0 224.6,385.0 224.8,385.0 224.9,385.0 225.1,385.0 225.2,385.0 225.4,385.0 225.5,385.0 225.6,385.0 225.8,385.0 225.9,385.0 226.1,385.0 226.2,385.0 226.4,385.0 226.5,385.0 226.6,385.0 226.8,385.0 226.9,385.0 227.1,385.0 227.2,385.0 227.4,385.0 227.5,385.0 227.6,385.0 227.8,385.0 227.9,385.0 228.1,385.0 228.2,385.0 228.4,385.0 228.5,385.0 228.6,385.0 228.8,385.0 228.9,385.0 229.1,385.0 229.2,385.0 229.4,385.0 229.5,385.0 229.6,385.0 229.8,385.0 229.9,385.0 230.1,385.0 230.2,385.0 230.4,385.0 230.5,385.0 230.6,385.0 230.8,385.0 230.9,385.0 231.1,385.0 231.2,385.0 231.4,385.0 231.5,385.0 231.6,385.0 231.8,385.0 231.9,385.0 232.1,385.0 232.2,385.0 232.4,385.0 232.5,385.0 232.6,385.0 232.8,385.0 232.9,385.0 233.1,385.0 233.2,385.0 233.4,385.0 233.5,385.0 233.6,385.0 233.8,385.0 233.9,385.0 234.1,385.0 234.2,385.0 234.4,385.0 234.5,385.0 234.6,385.0 234.8,385.0 234.9,385.0 235.1,385.0 235.2,385.0 235.4,385.0 235.5,385.0 235.6,385.0 235.8,385.0 235.9,385.0 236.1,385.0 236.2,385.0 236.4,385.0 236.5,385.0 236.6,385.0 236.8,385.0 236.9,385.0 237.1,385.0 237.2,385.0 237.4,385.0 237.5,385.0 237.6,385.0 237.8,385.0 237.9,385.0 238.1,385.0 238.2,385.0 238.4,385.0 238.5,385.0 238.6,385.0 238.8,385.0 238.9,385.0 239.1,385.0 239.2,385.0 239.4,385.0 239.5,385.0 239.6,385.0 239.8,385.0 239.9,385.0 240.1,385.0 240.2,385.0 240.4,385.0 240.5,385.0 240.6,385.0 240.8,385.0 240.9,385.0 241.1,385.0 241.2,385.0 241.4,385.0 241.5,385.0 241.6,385.0 241.8,385.0 241.9,385.0 242.1,385.0 242.2,385.0 242.4,385.0 242.5,385.0 242.6,385.0 242.8,385.0 242.9,385.0 243.1,385.0 243.2,385.0 243.4,385.0 243.5,385.0 243.6,385.0 243.8,385.0 243.9,385.0 244.1,385.0 244.2,385.0 244.4,385.0 244.5,385.0 244.6,385.0 244.8,385.0 244.9,385.0 245.1,385.0 245.2,385.0 245.4,385.0 245.5,385.0 245.6,385.0 245.8,385.0 245.9,385.0 246.1,385.0 246.2,385.0 246.4,385.0 246.5,385.0 246.6,385.0 246.8,385.0 246.9,385.0 247.1,385.0 247.2,385.0 247.4,385.0 247.5,385.0 247.6,385.0 247.8,385.0 247.9,385.0 248.1,385.0 248.2,385.0 248.4,385.0 248.5,385.0 248.6,385.0 248.8,385.0 248.9,385.0 249.1,385.0 249.2,385.0 249.4,385.0 249.5,385.0 249.6,385.0 249.8,385.0 249.9,385.0 250.1,385.0 250.2,385.0 250.4,385.0 250.5,385.0 250.6,385.0 250.8,385.0 250.9,385.0 251.1,385.0 251.2,385.0 251.4,385.0 251.5,385.0 251.6,385.0 251.8,385.0 251.9,385.0 252.1,385.0 252.2,385.0 252.4,385.0 252.5,385.0 252.6,385.0 252.8,385.0 252.9,385.0 253.1,385.0 253.2,385.0 253.4,385.0 253.5,385.0 253.6,385.0 253.8,385.0 253.9,385.0 254.1,385.0 254.2,385.0 254.4,385.0 254.5,385.0 254.6,385.0 254.8,385.0 254.9,385.0 255.1,385.0 255.2,385.0 255.4,385.0 255.5,385.0 255.6,385.0 255.8,385.0 255.9,385.0 256.1,385.0 256.2,385.0 256.4,385.0 256.5,385.0 256.6,385.0 256.8,385.0 256.9,385.0 257.1,385.0 257.2,385.0 257.4,385.0 257.5,385.0 257.6,385.0 257.8,385.0 257.9,385.0 258.1,385.0 258.2,385.0 258.4,385.0 258.5,385.0 258.6,385.0 258.8,385.0 258.9,385.0 259.1,385.0 259.2,385.0 259.4,385.0 259.5,385.0 259.6,385.0 259.8,385.0 259.9,385.0 260.1,385.0 260.2,385.0 260.4,385.0 260.5,385.0 260.6,385.0 260.8,385.0 260.9,385.0 261.1,385.0 261.2,385.0 261.4,385.0 261.5,385.0 261.6,385.0 261.8,385.0 261.9,385.0 262.1,385.0 262.2,385.0 262.4,385.0 262.5,385.0 262.6,385.0 262.8,385.0 262.9,385.0 263.1,385.0 263.2,385.0 263.4,385.0 263.5,385.0 263.6,385.0 263.8,385.0 263.9,385.0 264.1,385.0 264.2,385.0 264.4,385.0 264.5,385.0 264.6,385.0 264.8,385.0 264.9,385.0 265.1,385.0 265.2,385.0 265.4,385.0 265.5,385.0 265.6,385.0 265.8,385.0 265.9,385.0 266.1,385.0 266.2,385.0 266.4,385.0 266.5,385.0 266.6,385.0 266.8,385.0 266.9,385.0 267.1,385.0 267.2,385.0 267.4,385.0 267.5,385.0 267.6,385.0 267.8,385.0 267.9,385.0 268.1,385.0 268.2,385.0 268.4,385.0 268.5,385.0 268.6,385.0 268.8,385.0 268.9,385.0 269.1,385.0 269.2,385.0 269.4,385.0 269.5,385.0 269.6,385.0 269.8,385.0 269.9,385.0 270.1,385.0 270.2,385.0 270.4,385.0 270.5,385.0 270.6,385.0 270.8,385.0 270.9,385.0 271.1,385.0 271.2,385.0 271.4,385.0 271.5,385.0 271.6,385.0 271.8,385.0 271.9,385.0 272.1,385.0 272.2,385.0 272.4,385.0 272.5,385.0 272.6,385.0 272.8,385.0 272.9,385.0 273.1,385.0 273.2,385.0 273.4,385.0 273.5,385.0 273.6,385.0 273.8,385.0 273.9,385.0 274.1,385.0 274.2,385.0 274.4,385.0 274.5,385.0 274.6,385.0 274.8,385.0 274.9,385.0 275.1,385.0 275.2,385.0 275.4,385.0 275.5,385.0 275.6,385.0 275.8,385.0 275.9,385.0 276.1,385.0 276.2,385.0 276.4,385.0 276.5,385.0 276.6,385.0 276.8,385.0 276.9,385.0 277.1,385.0 277.2,385.0 277.4,385.0 277.5,385.0 277.6,385.0 277.8,385.0 277.9,385.0 278.1,385.0 278.2,385.0 278.4,385.0 278.5,385.0 278.6,385.0 278.8,385.0 278.9,385.0 279.1,385.0 279.2,385.0 279.4,385.0 279.5,385.0 279.6,385.0 279.8,385.0 279.9,385.0 280.1,385.0 280.2,385.0 280.4,385.0 280.5,385.0 280.6,385.0 280.8,385.0 280.9,385.0 281.1,385.0 281.2,385.0 281.4,385.0 281.5,385.0 281.6,385.0 281.8,385.0 281.9,385.0 282.1,385.0 282.2,385.0 282.4,385.0 282.5,385.0 282.6,385.0 282.8,385.0 282.9,385.0 283.1,385.0 283.2,385.0 283.4,385.0 283.5,385.0 283.6,385.0 283.8,385.0 283.9,385.0 284.1,385.0 284.2,385.0 284.4,385.0 284.5,385.0 284.6,385.0 284.8,385.0 284.9,385.0 285.1,385.0 285.2,385.0 285.4,385.0 285.5,385.0 285.6,385.0 285.8,385.0 285.9,385.0 286.1,385.0 286.2,385.0 286.4,385.0 286.5,385.0 286.6,385.0 286.8,385.0 286.9,385.0 287.1,385.0 287.2,385.0 287.4,385.0 287.5,385.0 287.6,385.0 287.8,385.0 287.9,385.0 288.1,385.0 288.2,385.0 288.4,385.0 288.5,385.0 288.6,385.0 288.8,385.0 288.9,385.0 289.1,385.0 289.2,385.0 289.4,385.0 289.5,385.0 289.6,385.0 289.8,385.0 289.9,385.0 290.1,385.0 290.2,385.0 290.4,385.0 290.5,385.0 290.6,385.0 290.8,385.0 290.9,385.0 291.1,385.0 291.2,385.0 291.4,385.0 291.5,385.0 291.6,385.0 291.8,385.0 291.9,385.0 292.1,385.0 292.2,385.0 292.4,385.0 292.5,385.0 292.6,385.0 292.8,385.0 292.9,385.0 293.1,385.0 293.2,385.0 293.4,385.0 293.5,385.0 293.6,385.0 293.8,385.0 293.9,385.0 294.1,385.0 294.2,385.0 294.4,385.0 294.5,385.0 294.6,385.0 294.8,385.0 294.9,385.0 295.1,385.0 295.2,385.0 295.4,385.0 295.5,385.0 295.6,385.0 295.8,385.0 295.9,385.0 296.1,385.0 296.2,385.0 296.4,385.0 296.5,385.0 296.6,385.0 296.8,385.0 296.9,385.0 297.1,385.0 297.2,385.0 297.4,385.0 297.5,385.0 297.6,385.0 297.8,385.0 297.9,385.0 298.1,385.0 298.2,385.0 298.4,385.0 298.5,385.0 298.6,385.0 298.8,385.0 298.9,385.0 299.1,385.0 299.2,385.0 299.4,385.0 299.5,385.0 299.6,385.0 299.8,385.0 299.9,385.0 300.1,385.0 300.2,385.0 300.4,385.0 300.5,385.0 300.6,385.0 300.8,385.0 300.9,385.0 301.1,385.0 301.2,385.0 301.4,385.0 301.5,385.0 301.6,385.0 301.8,385.0 301.9,385.0 302.1,385.0 302.2,385.0 302.4,385.0 302.5,385.0 302.6,385.0 302.8,385.0 302.9,385.0 303.1,385.0 303.2,385.0 303.4,385.0 303.5,385.0 303.6,385.0 303.8,385.0 303.9,385.0 304.1,385.0 304.2,385.0 304.4,385.0 304.5,385.0 304.6,385.0 304.8,385.0 304.9,385.0 305.1,385.0 305.2,385.0 305.4,385.0 305.5,385.0 305.6,385.0 305.8,385.0 305.9,385.0 306.1,385.0 306.2,385.0 306.4,385.0 306.5,385.0 306.6,385.0 306.8,385.0 306.9,385.0 307.1,385.0 307.2,385.0 307.4,385.0 307.5,385.0 307.6,385.0 307.8,385.0 307.9,385.0 308.1,385.0 308.2,385.0 308.4,385.0 308.5,385.0 308.6,385.0 308.8,385.0 308.9,385.0 309.1,385.0 309.2,385.0 309.4,385.0 309.5,385.0 309.6,385.0 309.8,385.0 309.9,385.0 310.1,385.0 310.2,385.0 310.4,385.0 310.5,385.0 310.6,385.0 310.8,385.0 310.9,385.0 311.1,385.0 311.2,385.0 311.4,385.0 311.5,385.0 311.6,385.0 311.8,385.0 311.9,385.0 312.1,385.0 312.2,385.0 312.4,385.0 312.5,385.0 312.6,385.0 312.8,385.0 312.9,385.0 313.1,385.0 313.2,385.0 313.4,385.0 313.5,385.0 313.6,385.0 313.8,385.0 313.9,385.0 314.1,385.0 314.2,385.0 314.4,385.0 314.5,385.0 314.6,385.0 314.8,385.0 314.9,385.0 315.1,385.0 315.2,385.0 315.4,385.0 315.5,385.0 315.6,385.0 315.8,385.0 315.9,385.0 316.1,385.0 316.2,385.0 316.4,385.0 316.5,385.0 316.6,385.0 316.8,385.0 316.9,385.0 317.1,385.0 317.2,385.0 317.4,385.0 317.5,385.0 317.6,385.0 317.8,385.0 317.9,385.0 318.1,385.0 318.2,385.0 318.4,385.0 318.5,385.0 318.6,385.0 318.8,385.0 318.9,385.0 319.1,385.0 319.2,385.0 319.4,385.0 319.5,385.0 319.6,385.0 319.8,385.0 319.9,385.0 320.1,385.0 320.2,385.0 320.4,385.0 320.5,385.0" fill="none" stroke="#0000ff" stroke-width="0.8"/>
<text transform="translate(34.80,395.6) scale(0.92,1)" font-size="8.8" text-anchor="middle" fill="#3c3c3c" >0</text>
<text transform="translate(63.37,395.6) scale(0.92,1)" font-size="8.8" text-anchor="middle" fill="#3c3c3c" >20</text>
<text transform="translate(91.94,395.6) scale(0.92,1)" font-size="8.8" text-anchor="middle" fill="#3c3c3c" >40</text>
<text transform="translate(120.51,395.6) scale(0.92,1)" font-size="8.8" text-anchor="middle" fill="#3c3c3c" >60</text>
<text transform="translate(149.08,395.6) scale(0.92,1)" font-size="8.8" text-anchor="middle" fill="#3c3c3c" >80</text>
<text transform="translate(177.65,395.6) scale(0.92,1)" font-size="8.8" text-anchor="middle" fill="#3c3c3c" >100</text>
<text transform="translate(206.22,395.6) scale(0.92,1)" font-size="8.8" text-anchor="middle" fill="#3c3c3c" >120</text>
<text transform="translate(234.79,395.6) scale(0.92,1)" font-size="8.8" text-anchor="middle" fill="#3c3c3c" >140</text>
<text transform="translate(263.36,395.6) scale(0.92,1)" font-size="8.8" text-anchor="middle" fill="#3c3c3c" >160</text>
<text transform="translate(291.93,395.6) scale(0.92,1)" font-size="8.8" text-anchor="middle" fill="#3c3c3c" >180</text>
<text transform="translate(320.50,395.6) scale(0.92,1)" font-size="8.8" text-anchor="middle" fill="#3c3c3c" >200</text>
<text transform="translate(31.5,388.15) scale(0.92,1)" font-size="8.8" text-anchor="end" fill="#3c3c3c" >0</text>
<text transform="translate(31.5,365.71) scale(0.92,1)" font-size="8.8" text-anchor="end" fill="#3c3c3c" >1</text>
<text transform="translate(31.5,343.27) scale(0.92,1)" font-size="8.8" text-anchor="end" fill="#3c3c3c" >2</text>
<text transform="translate(31.5,320.83) scale(0.92,1)" font-size="8.8" text-anchor="end" fill="#3c3c3c" >3</text>
<text transform="translate(31.5,298.39) scale(0.92,1)" font-size="8.8" text-anchor="end" fill="#3c3c3c" >4</text>
<text transform="translate(31.5,275.95) scale(0.92,1)" font-size="8.8" text-anchor="end" fill="#3c3c3c" >5</text>
<text transform="translate(31.5,253.51) scale(0.92,1)" font-size="8.8" text-anchor="end" fill="#3c3c3c" >6</text>
<text transform="translate(31.5,231.07) scale(0.92,1)" font-size="8.8" text-anchor="end" fill="#3c3c3c" >7</text>
<text transform="translate(31.5,208.63) scale(0.92,1)" font-size="8.8" text-anchor="end" fill="#3c3c3c" >8</text>
<text transform="translate(31.5,186.19) scale(0.92,1)" font-size="8.8" text-anchor="end" fill="#3c3c3c" >9</text>
<text transform="translate(31.5,163.75) scale(0.92,1)" font-size="8.8" text-anchor="end" fill="#3c3c3c" >10</text>
<path d="M34.80,385.0 v-3.5 M34.80,160.0 v3.5 M63.37,385.0 v-3.5 M63.37,160.0 v3.5 M91.94,385.0 v-3.5 M91.94,160.0 v3.5 M120.51,385.0 v-3.5 M120.51,160.0 v3.5 M149.08,385.0 v-3.5 M149.08,160.0 v3.5 M177.65,385.0 v-3.5 M177.65,160.0 v3.5 M206.22,385.0 v-3.5 M206.22,160.0 v3.5 M234.79,385.0 v-3.5 M234.79,160.0 v3.5 M263.36,385.0 v-3.5 M263.36,160.0 v3.5 M291.93,385.0 v-3.5 M291.93,160.0 v3.5 M320.50,385.0 v-3.5 M320.50,160.0 v3.5 M34.8,385.00 h3.5 M320.5,385.00 h-3.5 M34.8,362.56 h3.5 M320.5,362.56 h-3.5 M34.8,340.12 h3.5 M320.5,340.12 h-3.5 M34.8,317.68 h3.5 M320.5,317.68 h-3.5 M34.8,295.24 h3.5 M320.5,295.24 h-3.5 M34.8,272.80 h3.5 M320.5,272.80 h-3.5 M34.8,250.36 h3.5 M320.5,250.36 h-3.5 M34.8,227.92 h3.5 M320.5,227.92 h-3.5 M34.8,205.48 h3.5 M320.5,205.48 h-3.5 M34.8,183.04 h3.5 M320.5,183.04 h-3.5 M34.8,160.60 h3.5 M320.5,160.60 h-3.5" stroke="#6a6a6a" stroke-width="1.2" fill="none"/>
<text x="34" y="156" font-size="8.6" fill="#3c3c3c" >x</text>
<text transform="translate(41.2,156) scale(0.92,1)" font-size="8.8" fill="#3c3c3c" >10</text>
<text x="50.6" y="150.4" font-size="6" fill="#3c3c3c" >4</text>
<text transform="translate(150,409.8) scale(0.975,1)" font-size="12.6" fill="#3c3c3c" >Frequenz</text>
<text transform="translate(15.2,287.6) rotate(-90) scale(0.95,1)" font-size="13.6" fill="#3c3c3c">EKG</text>
<polyline points="403.5,377.9 403.6,377.9 403.7,377.9 403.8,377.9 403.9,377.9 404.0,377.9 404.1,377.9 404.2,377.9 404.4,377.9 404.5,377.9 404.6,377.9 404.7,377.9 404.8,377.9 404.9,377.9 405.0,377.9 405.1,377.9 405.2,377.9 405.3,377.9 405.4,377.9 405.5,377.9 405.6,377.9 405.7,377.9 405.8,377.9 405.9,377.9 406.0,377.9 406.1,377.9 406.3,377.9 406.4,377.9 406.5,377.9 406.6,377.9 406.7,377.9 406.8,377.9 406.9,377.9 407.0,377.9 407.1,377.9 407.2,377.9 407.3,377.9 407.4,377.9 407.5,377.9 407.6,377.9 407.7,377.9 407.8,377.9 407.9,377.9 408.0,377.9 408.2,377.9 408.3,377.9 408.4,377.9 408.5,377.9 408.6,377.9 408.7,377.9 408.8,377.9 408.9,377.9 409.0,377.9 409.1,377.9 409.2,377.9 409.3,377.9 409.4,377.9 409.5,377.9 409.6,377.9 409.7,377.9 409.8,377.9 409.9,377.9 410.1,377.9 410.2,377.9 410.3,377.9 410.4,377.9 410.5,377.9 410.6,377.9 410.7,377.9 410.8,377.9 410.9,377.9 411.0,377.9 411.1,377.9 411.2,377.9 411.3,377.9 411.4,377.9 411.5,377.9 411.6,377.9 411.7,377.9 411.8,377.9 412.0,377.9 412.1,377.9 412.2,377.9 412.3,377.9 412.4,377.9 412.5,377.9 412.6,377.9 412.7,377.9 412.8,377.9 412.9,377.9 413.0,377.9 413.1,377.9 413.2,377.9 413.3,377.9 413.4,377.9 413.5,377.9 413.6,377.9 413.7,377.9 413.9,377.9 414.0,377.9 414.1,377.9 414.2,377.9 414.3,377.9 414.4,377.9 414.5,377.9 414.6,377.9 414.7,377.9 414.8,377.9 414.9,377.9 415.0,377.9 415.1,377.9 415.2,377.9 415.3,377.9 415.4,377.9 415.5,377.9 415.6,377.9 415.8,377.9 415.9,377.9 416.0,377.9 416.1,377.9 416.2,377.9 416.3,377.9 416.4,377.9 416.5,377.9 416.6,377.9 416.7,377.9 416.8,377.9 416.9,377.9 417.0,377.9 417.1,377.9 417.2,377.9 417.3,377.9 417.4,377.9 417.5,377.9 417.7,377.9 417.8,377.9 417.9,377.9 418.0,377.9 418.1,377.9 418.2,377.9 418.3,377.9 418.4,377.9 418.5,377.9 418.6,377.9 418.7,377.9 418.8,377.9 418.9,377.9 419.0,377.9 419.1,377.9 419.2,377.9 419.3,377.9 419.4,377.9 419.6,377.9 419.7,377.9 419.8,377.9 419.9,377.9 420.0,377.9 420.1,377.9 420.2,377.9 420.3,377.9 420.4,377.9 420.5,377.9 420.6,377.9 420.7,377.9 420.8,377.9 420.9,377.9 421.0,377.9 421.1,377.9 421.2,377.9 421.3,377.9 421.5,377.9 421.6,377.9 421.7,377.9 421.8,377.9 421.9,377.9 422.0,377.9 422.1,377.9 422.2,377.9 422.3,377.9 422.4,377.9 422.5,377.9 422.6,377.9 422.7,377.9 422.8,377.9 422.9,377.9 423.0,377.9 423.1,377.9 423.2,377.9 423.4,377.9 423.5,377.9 423.6,377.9 423.7,377.9 423.8,377.9 423.9,377.9 424.0,377.9 424.1,377.9 424.2,377.9 424.3,377.9 424.4,377.9 424.5,377.9 424.6,377.9 424.7,377.9 424.8,377.9 424.9,377.9 425.0,377.9 425.1,377.9 425.3,377.9 425.4,377.9 425.5,377.9 425.6,377.9 425.7,377.9 425.8,377.9 425.9,377.9 426.0,377.9 426.1,377.9 426.2,377.9 426.3,377.9 426.4,377.9 426.5,377.9 426.6,377.9 426.7,377.9 426.8,377.9 426.9,377.9 427.0,377.9 427.2,377.9 427.3,377.9 427.4,377.9 427.5,377.9 427.6,377.9 427.7,377.9 427.8,377.9 427.9,377.9 428.0,377.9 428.1,377.9 428.2,377.9 428.3,377.9 428.4,377.9 428.5,377.9 428.6,377.9 428.7,377.9 428.8,377.9 428.9,377.9 429.1,377.9 429.2,377.9 429.3,377.9 429.4,377.9 429.5,377.9 429.6,377.9 429.7,377.9 429.8,377.9 429.9,377.9 430.0,377.9 430.1,377.9 430.2,377.9 430.3,377.9 430.4,377.9 430.5,377.9 430.6,377.9 430.7,377.9 430.8,377.9 431.0,377.9 431.1,377.9 431.2,377.9 431.3,377.9 431.4,377.9 431.5,377.9 431.6,377.9 431.7,377.9 431.8,377.9 431.9,377.9 432.0,377.9 432.1,377.9 432.2,377.9 432.3,377.9 432.4,377.9 432.5,377.9 432.6,377.9 432.7,377.9 432.9,377.9 433.0,377.9 433.1,377.9 433.2,377.9 433.3,377.9 433.4,377.9 433.5,377.9 433.6,377.9 433.7,377.9 433.8,377.9 433.9,377.9 434.0,377.9 434.1,377.9 434.2,377.9 434.3,377.9 434.4,377.9 434.5,377.9 434.6,377.9 434.8,377.9 434.9,377.9 435.0,377.9 435.1,377.9 435.2,377.9 435.3,377.9 435.4,377.9 435.5,377.9 435.6,377.9 435.7,377.9 435.8,377.9 435.9,377.9 436.0,377.9 436.1,377.9 436.2,377.9 436.3,377.9 436.4,377.9 436.5,377.9 436.6,377.9 436.8,377.9 436.9,377.9 437.0,377.9 437.1,377.9 437.2,377.9 437.3,377.9 437.4,377.9 437.5,377.9 437.6,377.9 437.7,377.9 437.8,377.9 437.9,377.9 438.0,377.9 438.1,377.9 438.2,377.9 438.3,377.9 438.4,377.9 438.5,377.9 438.7,377.9 438.8,377.9 438.9,377.9 439.0,377.9 439.1,377.9 439.2,377.9 439.3,377.9 439.4,377.9 439.5,377.9 439.6,377.9 439.7,377.9 439.8,377.9 439.9,377.9 440.0,377.9 440.1,377.9 440.2,377.9 440.3,377.9 440.4,377.9 440.6,377.9 440.7,377.9 440.8,377.9 440.9,377.9 441.0,377.9 441.1,377.9 441.2,377.9 441.3,377.9 441.4,377.9 441.5,377.9 441.6,377.9 441.7,377.9 441.8,377.9 441.9,377.9 442.0,377.9 442.1,377.9 442.2,377.9 442.3,377.9 442.5,377.9 442.6,377.9 442.7,377.9 442.8,377.9 442.9,377.9 443.0,377.9 443.1,377.9 443.2,377.9 443.3,377.9 443.4,377.9 443.5,377.9 443.6,377.9 443.7,377.9 443.8,377.9 443.9,377.9 444.0,377.9 444.1,377.9 444.2,377.9 444.4,377.9 444.5,377.9 444.6,377.9 444.7,377.9 444.8,377.9 444.9,377.9 445.0,377.9 445.1,377.9 445.2,377.9 445.3,377.9 445.4,377.9 445.5,377.9 445.6,377.9 445.7,377.9 445.8,377.9 445.9,377.9 446.0,377.9 446.1,377.9 446.3,377.9 446.4,377.9 446.5,377.9 446.6,377.9 446.7,377.9 446.8,377.9 446.9,377.9 447.0,377.9 447.1,377.9 447.2,377.9 447.3,377.9 447.4,377.9 447.5,377.9 447.6,377.9 447.7,377.9 447.8,377.9 447.9,377.9 448.0,377.9 448.2,377.9 448.3,377.9 448.4,377.9 448.5,377.9 448.6,377.9 448.7,377.9 448.8,377.9 448.9,377.9 449.0,377.9 449.1,377.9 449.2,377.9 449.3,377.9 449.4,377.9 449.5,377.9 449.6,377.9 449.7,377.9 449.8,377.9 449.9,377.9 450.1,377.9 450.2,377.9 450.3,377.9 450.4,377.9 450.5,377.9 450.6,377.9 450.7,377.9 450.8,377.9 450.9,377.9 451.0,377.9 451.1,377.9 451.2,377.9 451.3,377.9 451.4,377.9 451.5,377.9 451.6,377.9 451.7,377.9 451.8,377.9 452.0,377.9 452.1,377.9 452.2,377.9 452.3,377.9 452.4,377.9 452.5,377.9 452.6,377.9 452.7,377.9 452.8,377.9 452.9,377.9 453.0,377.9 453.1,377.9 453.2,377.9 453.3,377.9 453.4,377.9 453.5,377.9 453.6,377.9 453.7,377.9 453.9,377.9 454.0,377.9 454.1,377.9 454.2,377.9 454.3,377.9 454.4,377.9 454.5,377.9 454.6,377.9 454.7,377.9 454.8,377.9 454.9,377.9 455.0,377.9 455.1,377.9 455.2,377.9 455.3,377.9 455.4,377.9 455.5,377.9 455.6,377.8 455.8,377.9 455.9,377.7 456.0,377.7 456.1,377.7 456.2,377.6 456.3,377.8 456.4,377.5 456.5,377.9 456.6,377.5 456.7,377.6 456.8,377.4 456.9,377.4 457.0,377.7 457.1,377.8 457.2,377.8 457.3,377.2 457.4,377.3 457.5,377.8 457.7,377.7 457.8,377.8 457.9,377.7 458.0,377.1 458.1,377.0 458.2,377.3 458.3,377.4 458.4,377.3 458.5,377.0 458.6,377.4 458.7,376.8 458.8,376.9 458.9,377.9 459.0,377.9 459.1,377.1 459.2,377.6 459.3,376.9 459.4,377.2 459.6,377.3 459.7,377.4 459.8,377.4 459.9,376.7 460.0,376.9 460.1,377.0 460.2,377.9 460.3,377.7 460.4,377.6 460.5,377.9 460.6,377.6 460.7,377.4 460.8,377.6 460.9,377.1 461.0,377.0 461.1,377.9 461.2,377.1 461.3,377.0 461.5,377.0 461.6,377.0 461.7,377.0 461.8,377.5 461.9,377.9 462.0,377.3 462.1,377.5 462.2,377.9 462.3,376.5 462.4,377.6 462.5,377.8 462.6,376.5 462.7,377.3 462.8,377.2 462.9,377.8 463.0,377.7 463.1,377.9 463.2,376.3 463.4,377.0 463.5,377.9 463.6,376.8 463.7,376.8 463.8,377.8 463.9,377.5 464.0,377.2 464.1,376.4 464.2,377.9 464.3,375.7 464.4,376.6 464.5,376.9 464.6,376.4 464.7,376.6 464.8,377.3 464.9,377.7 465.0,376.5 465.1,376.4 465.3,377.4 465.4,377.6 465.5,377.4 465.6,377.5 465.7,376.8 465.8,377.3 465.9,377.9 466.0,376.4 466.1,377.0 466.2,376.2 466.3,376.5 466.4,377.2 466.5,377.1 466.6,376.1 466.7,377.5 466.8,377.7 466.9,377.4 467.0,376.3 467.2,377.2 467.3,377.3 467.4,377.2 467.5,377.6 467.6,377.4 467.7,376.2 467.8,377.8 467.9,377.6 468.0,376.1 468.1,377.2 468.2,377.9 468.3,376.3 468.4,376.7 468.5,375.8 468.6,377.9 468.7,376.8 468.8,377.0 468.9,377.4 469.1,377.1 469.2,377.1 469.3,376.5 469.4,377.5 469.5,375.9 469.6,376.7 469.7,377.1 469.8,377.3 469.9,375.9 470.0,377.0 470.1,377.4 470.2,376.3 470.3,376.8 470.4,377.9 470.5,377.8 470.6,377.9 470.7,376.2 470.8,377.0 471.0,376.1 471.1,375.9 471.2,376.4 471.3,377.9 471.4,377.7 471.5,376.2 471.6,376.4 471.7,377.2 471.8,376.4 471.9,377.7 472.0,376.5 472.1,376.6 472.2,376.1 472.3,377.2 472.4,376.5 472.5,377.4 472.6,376.1 472.7,377.1 472.9,376.3 473.0,377.5 473.1,377.2 473.2,376.8 473.3,377.2 473.4,377.6 473.5,377.7 473.6,377.3 473.7,376.3 473.8,377.7 473.9,376.4 474.0,376.2 474.1,376.9 474.2,376.5 474.3,376.9 474.4,376.5 474.5,376.7 474.6,377.5 474.8,376.6 474.9,376.7 475.0,376.4 475.1,376.4 475.2,376.3 475.3,376.0 475.4,375.9 475.5,377.4 475.6,375.9 475.7,376.7 475.8,377.1 475.9,376.1 476.0,375.9 476.1,377.3 476.2,377.0 476.3,376.3 476.4,377.2 476.5,377.5 476.7,376.2 476.8,376.1 476.9,376.8 477.0,377.9 477.1,377.9 477.2,375.8 477.3,377.0 477.4,376.3 477.5,377.7 477.6,376.6 477.7,377.1 477.8,376.8 477.9,377.8 478.0,376.1 478.1,375.9 478.2,376.3 478.3,377.9 478.4,375.1 478.6,377.0 478.7,377.0 478.8,377.6 478.9,376.3 479.0,377.1 479.1,376.2 479.2,377.1 479.3,377.7 479.4,377.1 479.5,377.7 479.6,376.4 479.7,376.9 479.8,375.9 479.9,377.5 480.0,377.9 480.1,376.6 480.2,376.3 480.3,376.2 480.5,376.1 480.6,376.0 480.7,376.5 480.8,377.3 480.9,377.4 481.0,375.0 481.1,376.1 481.2,377.5 481.3,376.6 481.4,377.8 481.5,376.6 481.6,377.5 481.7,377.8 481.8,377.1 481.9,377.3 482.0,375.9 482.1,377.2 482.2,375.8 482.4,376.2 482.5,376.9 482.6,376.1 482.7,375.8 482.8,377.3 482.9,375.2 483.0,377.6 483.1,376.4 483.2,375.7 483.3,375.7 483.4,377.2 483.5,377.8 483.6,375.7 483.7,375.8 483.8,377.4 483.9,376.0 484.0,377.2 484.1,375.8 484.2,376.5 484.4,376.3 484.5,377.6 484.6,377.0 484.7,376.4 484.8,376.3 484.9,376.0 485.0,377.9 485.1,376.0 485.2,375.9 485.3,376.8 485.4,377.4 485.5,376.9 485.6,375.9 485.7,377.1 485.8,375.7 485.9,376.8 486.0,377.3 486.1,377.3 486.3,377.0 486.4,376.6 486.5,377.7 486.6,377.1 486.7,376.6 486.8,377.9 486.9,377.0 487.0,376.4 487.1,376.3 487.2,377.1 487.3,377.3 487.4,377.9 487.5,375.9 487.6,376.8 487.7,376.8 487.8,377.1 487.9,376.3 488.0,376.2 488.2,377.9 488.3,376.8 488.4,377.7 488.5,377.1 488.6,376.7 488.7,377.0 488.8,376.6 488.9,377.7 489.0,376.1 489.1,377.2 489.2,377.9 489.3,376.7 489.4,376.6 489.5,375.8 489.6,377.7 489.7,376.8 489.8,377.7 489.9,377.3 490.1,377.1 490.2,376.7 490.3,377.3 490.4,377.4 490.5,377.7 490.6,377.4 490.7,376.6 490.8,377.9 490.9,376.8 491.0,377.0 491.1,377.3 491.2,377.2 491.3,376.8 491.4,377.5 491.5,377.9 491.6,377.5 491.7,376.2 491.8,377.8 492.0,377.1 492.1,375.9 492.2,377.5 492.3,377.8 492.4,376.8 492.5,377.8 492.6,377.4 492.7,377.7 492.8,376.7 492.9,376.9 493.0,377.5 493.1,377.1 493.2,377.1 493.3,377.8 493.4,377.9 493.5,377.3 493.6,377.0 493.7,376.8 493.9,377.0 494.0,376.9 494.1,376.8 494.2,377.5 494.3,376.2 494.4,376.9 494.5,376.4 494.6,377.0 494.7,377.0 494.8,375.9 494.9,376.4 495.0,377.8 495.1,376.9 495.2,376.9 495.3,375.9 495.4,377.8 495.5,376.5 495.6,376.9 495.8,377.1 495.9,377.8 496.0,377.1 496.1,377.4 496.2,377.5 496.3,376.1 496.4,377.4 496.5,376.6 496.6,377.2 496.7,377.7 496.8,377.8 496.9,377.8 497.0,377.2 497.1,377.8 497.2,377.2 497.3,377.7 497.4,376.4 497.5,376.8 497.7,376.9 497.8,376.7 497.9,377.5 498.0,377.6 498.1,377.8 498.2,377.7 498.3,377.7 498.4,377.2 498.5,377.9 498.6,377.3 498.7,376.8 498.8,376.5 498.9,376.2 499.0,375.9 499.1,376.8 499.2,376.4 499.3,376.9 499.4,377.5 499.6,376.4 499.7,377.3 499.8,377.8 499.9,376.5 500.0,377.9 500.1,377.8 500.2,377.2 500.3,377.5 500.4,376.8 500.5,376.3 500.6,377.4 500.7,377.9 500.8,377.0 500.9,377.5 501.0,376.3 501.1,376.4 501.2,376.1 501.3,377.4 501.5,377.0 501.6,376.7 501.7,376.0 501.8,377.9 501.9,376.9 502.0,376.2 502.1,377.1 502.2,376.7 502.3,376.7 502.4,375.5 502.5,377.1 502.6,377.2 502.7,377.0 502.8,377.6 502.9,377.3 503.0,377.8 503.1,376.1 503.2,377.3 503.4,376.1 503.5,377.3 503.6,376.5 503.7,376.9 503.8,377.8 503.9,377.7 504.0,377.2 504.1,376.0 504.2,377.4 504.3,376.3 504.4,376.2 504.5,377.1 504.6,375.7 504.7,377.2 504.8,376.3 504.9,377.3 505.0,377.4 505.1,375.8 505.3,375.8 505.4,377.0 505.5,377.9 505.6,375.8 505.7,377.2 505.8,377.6 505.9,376.9 506.0,376.7 506.1,376.1 506.2,377.0 506.3,377.9 506.4,376.5 506.5,376.5 506.6,377.6 506.7,376.5 506.8,377.6 506.9,376.1 507.0,377.2 507.2,375.4 507.3,375.8 507.4,375.6 507.5,376.3 507.6,377.4 507.7,376.8 507.8,377.1 507.9,375.8 508.0,375.9 508.1,375.5 508.2,377.9 508.3,377.5 508.4,376.9 508.5,377.0 508.6,376.1 508.7,377.5 508.8,375.7 508.9,375.4 509.1,377.9 509.2,374.5 509.3,374.4 509.4,375.9 509.5,373.3 509.6,377.2 509.7,377.5 509.8,374.3 509.9,375.8 510.0,375.6 510.1,375.0 510.2,376.8 510.3,377.5 510.4,374.9 510.4,376.3 510.5,376.0 510.5,377.9 510.6,377.7 510.7,377.0 510.7,374.6 510.8,373.8 510.8,372.6 510.9,377.1 510.9,376.6 511.0,377.4 511.1,377.1 511.1,377.9 511.2,374.6 511.2,375.4 511.3,376.7 511.3,376.8 511.4,377.5 511.4,377.0 511.5,377.9 511.6,376.8 511.6,377.5 511.7,377.2 511.7,372.4 511.8,374.4 511.8,375.3 511.9,376.9 512.0,373.6 512.0,375.8 512.1,376.0 512.1,376.3 512.2,377.4 512.2,377.9 512.3,374.3 512.3,377.9 512.4,374.9 512.5,372.7 512.5,377.9 512.6,372.8 512.6,377.5 512.7,377.3 512.7,373.8 512.8,372.8 512.9,373.4 512.9,371.2 513.0,372.0 513.0,371.0 513.1,372.4 513.1,373.5 513.2,377.9 513.2,377.8 513.3,377.6 513.4,374.0 513.4,375.4 513.5,374.7 513.5,370.9 513.6,376.7 513.6,373.2 513.7,369.3 513.8,369.8 513.8,371.1 513.9,369.1 513.9,368.7 514.0,370.8 514.0,376.1 514.1,375.5 514.1,369.0 514.2,377.3 514.3,369.2 514.3,374.2 514.4,368.1 514.4,374.8 514.5,376.0 514.5,367.6 514.6,373.8 514.7,376.4 514.7,374.4 514.8,367.6 514.8,374.4 514.9,370.4 514.9,372.0 515.0,371.8 515.0,377.8 515.1,377.8 515.2,373.7 515.2,368.9 515.3,365.3 515.3,370.3 515.4,376.1 515.4,376.2 515.5,364.0 515.6,368.6 515.6,367.1 515.7,364.9 515.7,368.0 515.8,372.4 515.8,363.6 515.9,370.3 515.9,362.8 516.0,374.9 516.1,363.7 516.1,377.2 516.2,360.3 516.2,365.4 516.3,360.7 516.3,365.5 516.4,376.3 516.5,364.5 516.5,377.5 516.6,365.6 516.6,366.7 516.7,373.8 516.7,377.2 516.8,357.0 516.8,370.1 516.9,358.0 517.0,360.2 517.0,364.4 517.1,357.1 517.1,377.8 517.2,370.4 517.2,375.8 517.3,365.8 517.4,371.0 517.4,358.0 517.5,360.5 517.5,364.2 517.6,370.7 517.6,354.0 517.7,371.1 517.7,352.5 517.8,358.0 517.9,360.2 517.9,377.9 518.0,374.7 518.0,376.0 518.1,375.8 518.1,344.1 518.2,367.2 518.3,366.9 518.3,360.1 518.4,366.8 518.4,367.1 518.5,369.4 518.5,367.5 518.6,372.8 518.6,360.0 518.7,364.3 518.8,351.7 518.8,353.3 518.9,361.7 518.9,356.3 519.0,364.2 519.0,346.5 519.1,374.5 519.2,370.3 519.2,371.3 519.3,363.4 519.3,367.5 519.4,369.4 519.4,369.5 519.5,342.9 519.6,344.7 519.6,341.4 519.7,346.8 519.7,365.4 519.8,343.2 519.8,357.8 519.9,350.5 519.9,373.5 520.0,377.0 520.1,377.7 520.1,357.8 520.2,347.5 520.2,347.8 520.3,375.6 520.3,344.8 520.4,338.2 520.5,367.4 520.5,336.0 520.6,350.6 520.6,339.6 520.7,361.1 520.7,335.7 520.8,363.3 520.8,362.9 520.9,354.1 521.0,354.5 521.0,336.8 521.1,357.8 521.1,352.2 521.2,359.5 521.2,351.5 521.3,347.3 521.4,345.7 521.4,359.0 521.5,350.3 521.5,364.6 521.6,331.1 521.6,348.5 521.7,336.1 521.7,365.7 521.8,344.6 521.9,344.9 521.9,365.4 522.0,332.8 522.0,335.7 522.1,348.6 522.1,377.1 522.2,375.5 522.3,335.0 522.3,353.5 522.4,328.7 522.4,354.3 522.5,353.4 522.5,331.6 522.6,327.1 522.6,337.7 522.7,348.3 522.8,302.4 522.8,354.7 522.9,352.5 522.9,337.8 523.0,342.8 523.0,336.7 523.1,326.8 523.2,364.3 523.2,307.8 523.3,313.0 523.3,325.4 523.4,334.7 523.4,331.9 523.5,361.3 523.5,361.3 523.6,338.6 523.7,329.0 523.7,305.6 523.8,350.4 523.8,285.9 523.9,323.1 523.9,333.7 524.0,306.3 524.1,354.8 524.1,320.5 524.2,357.7 524.2,368.4 524.3,348.3 524.3,363.9 524.4,375.9 524.4,352.4 524.5,336.6 524.6,352.2 524.6,357.3 524.7,313.8 524.7,362.3 524.8,322.6 524.8,308.8 524.9,354.8 525.0,367.3 525.0,352.9 525.1,320.2 525.1,276.4 525.2,344.8 525.2,328.0 525.3,325.4 525.3,353.7 525.4,365.7 525.5,377.6 525.5,364.2 525.6,321.8 525.6,336.8 525.7,341.3 525.7,325.7 525.8,342.6 525.9,355.8 525.9,367.1 526.0,360.0 526.0,310.1 526.1,315.9 526.1,271.7 526.2,320.2 526.2,310.8 526.3,289.6 526.4,339.1 526.4,325.1 526.5,344.5 526.5,305.0 526.6,318.4 526.6,326.4 526.7,330.8 526.8,363.9 526.8,341.5 526.9,346.0 526.9,341.4 527.0,366.9 527.0,293.1 527.1,354.5 527.1,342.1 527.2,306.5 527.3,328.3 527.3,343.6 527.4,340.9 527.4,357.8 527.5,361.8 527.5,350.8 527.6,324.8 527.7,364.4 527.7,278.8 527.8,291.0 527.8,336.9 527.9,304.9 527.9,328.5 528.0,324.0 528.1,365.1 528.1,354.3 528.2,319.2 528.2,340.0 528.3,334.8 528.3,314.8 528.4,332.5 528.4,363.4 528.5,290.4 528.6,308.8 528.6,362.4 528.7,337.0 528.7,337.1 528.8,328.1 528.8,331.3 528.9,308.4 529.0,298.6 529.0,300.3 529.1,301.1 529.1,328.0 529.2,323.4 529.2,337.0 529.3,362.3 529.3,355.6 529.4,336.2 529.5,322.3 529.5,370.2 529.6,340.8 529.6,329.6 529.7,297.8 529.7,352.9 529.8,329.6 529.9,352.3 529.9,248.1 530.0,332.1 530.0,328.3 530.1,313.9 530.1,339.9 530.2,309.9 530.2,341.5 530.3,349.5 530.4,334.2 530.4,309.8 530.5,315.3 530.5,270.2 530.6,290.6 530.6,286.7 530.7,353.1 530.8,324.0 530.8,282.2 530.9,290.7 530.9,302.9 531.0,355.0 531.0,309.6 531.1,348.4 531.1,328.1 531.2,291.1 531.3,323.2 531.3,271.5 531.4,205.6 531.4,325.9 531.5,270.4 531.5,274.1 531.6,316.6 531.7,357.7 531.7,359.2 531.8,299.8 531.8,286.3 531.9,322.3 531.9,339.3 532.0,356.3 532.0,354.4 532.1,308.9 532.2,323.9 532.2,345.0 532.3,353.2 532.3,259.3 532.4,283.6 532.4,318.4 532.5,315.0 532.6,173.8 532.6,268.6 532.7,333.8 532.7,330.2 532.8,302.7 532.8,283.7 532.9,338.6 532.9,315.8 533.0,347.9 533.1,361.7 533.1,254.4 533.2,355.9 533.2,256.4 533.3,311.5 533.3,353.3 533.4,359.2 533.5,342.2 533.5,268.9 533.6,306.1 533.6,346.0 533.7,307.5 533.7,304.5 533.8,177.3 533.8,295.3 533.9,345.5 534.0,270.8 534.0,369.1 534.1,312.4 534.1,295.3 534.2,363.2 534.2,321.1 534.3,268.9 534.4,348.3 534.4,268.6 534.5,308.3 534.5,276.8 534.6,286.9 534.6,275.8 534.7,302.4 534.7,234.6 534.8,301.4 534.9,313.4 534.9,372.8 535.0,229.2 535.0,285.3 535.1,291.8 535.1,275.2 535.2,344.3 535.3,323.3 535.3,291.1 535.4,328.4 535.4,302.7 535.5,333.0 535.5,295.6 535.6,285.0 535.6,307.6 535.7,295.9 535.8,294.7 535.8,345.7 535.9,355.6 535.9,314.4 536.0,332.2 536.0,350.4 536.1,280.4 536.2,337.7 536.2,317.1 536.3,304.8 536.3,314.4 536.4,325.4 536.4,294.9 536.5,335.5 536.5,300.0 536.6,330.3 536.7,309.1 536.7,339.9 536.8,274.8 536.8,372.0 536.9,336.4 536.9,319.3 537.0,328.0 537.1,348.5 537.1,339.6 537.2,295.8 537.2,338.3 537.3,298.2 537.3,294.7 537.4,301.7 537.5,294.4 537.5,356.3 537.6,321.4 537.6,348.4 537.7,302.0 537.7,290.8 537.8,355.0 537.8,298.9 537.9,279.7 538.0,273.9 538.0,309.9 538.1,353.3 538.1,350.5 538.2,274.5 538.2,375.0 538.3,330.8 538.4,348.8 538.4,255.6 538.5,296.3 538.5,328.8 538.6,296.8 538.6,305.2 538.7,350.4 538.7,358.4 538.8,338.5 538.9,299.2 538.9,354.5 539.0,310.9 539.0,346.2 539.1,252.8 539.1,271.8 539.2,356.7 539.3,325.6 539.3,364.5 539.4,348.2 539.4,257.6 539.5,346.3 539.5,325.4 539.6,360.0 539.6,282.7 539.7,268.1 539.8,279.6 539.8,316.4 539.9,348.7 539.9,297.1 540.0,348.4 540.0,227.3 540.1,281.7 540.2,291.5 540.2,365.7 540.3,307.6 540.3,287.5 540.4,277.2 540.4,339.9 540.5,323.8 540.5,358.8 540.6,361.9 540.7,289.6 540.7,334.2 540.8,322.1 540.8,332.1 540.9,271.7 540.9,268.4 541.0,252.8 541.1,335.9 541.1,346.0 541.2,283.0 541.2,319.1 541.3,296.3 541.3,340.0 541.4,367.0 541.4,360.2 541.5,351.7 541.6,297.2 541.6,367.1 541.7,371.1 541.7,319.6 541.8,364.9 541.8,354.5 541.9,312.6 542.0,360.9 542.0,336.1 542.1,283.7 542.1,369.4 542.2,359.5 542.2,365.6 542.3,351.1 542.3,352.4 542.4,336.1 542.5,322.1 542.5,370.6 542.6,369.7 542.6,335.8 542.7,349.3 542.7,321.6 542.8,365.2 542.9,372.8 542.9,356.2 543.0,337.7 543.0,326.9 543.1,349.9 543.1,356.5 543.2,300.0 543.2,375.6 543.3,363.8 543.4,328.0 543.4,364.9 543.5,340.3 543.5,368.2 543.6,353.4 543.6,328.9 543.7,372.1 543.8,362.0 543.8,352.1 543.9,370.3 543.9,331.1 544.0,334.7 544.0,365.1 544.1,346.3 544.1,359.0 544.2,352.2 544.3,348.5 544.3,367.1 544.4,326.0 544.4,348.9 544.5,334.9 544.5,351.0 544.6,342.8 544.7,210.3 544.7,370.7 544.8,363.6 544.8,377.9 544.9,354.1 544.9,362.1 545.0,353.4 545.0,344.0 545.1,373.7 545.2,375.9 545.2,354.7 545.3,374.7 545.3,377.4 545.4,369.3 545.4,377.9 545.5,377.9 545.6,367.8 545.6,360.7 545.7,374.7 545.7,370.4 545.8,372.1 545.8,358.7 545.9,374.2 546.0,345.8 546.0,344.1 546.1,377.8 546.1,352.7 546.2,372.5 546.2,364.5 546.3,356.2 546.3,210.3 546.4,353.4 546.5,329.2 546.5,364.3 546.6,368.0 546.6,342.5 546.7,327.7 546.7,328.9 546.8,331.0 546.9,374.5 546.9,327.8 547.0,343.0 547.0,377.7 547.1,377.6 547.1,365.5 547.2,334.8 547.2,317.4 547.3,335.3 547.4,365.7 547.4,319.4 547.5,335.6 547.5,374.7 547.6,325.8 547.6,368.3 547.7,343.7 547.8,376.8 547.8,300.0 547.9,365.7 547.9,333.6 548.0,374.6 548.0,336.0 548.1,342.6 548.1,336.7 548.2,345.6 548.3,313.7 548.3,326.1 548.4,357.7 548.4,360.4 548.5,318.1 548.5,316.3 548.6,343.0 548.7,321.4 548.7,323.4 548.8,308.0 548.8,365.7 548.9,286.8 548.9,334.7 549.0,337.4 549.0,318.2 549.1,322.2 549.2,335.2 549.2,346.1 549.3,292.8 549.3,299.4 549.4,360.5 549.4,333.0 549.5,299.3 549.6,286.9 549.6,277.1 549.7,345.1 549.7,280.1 549.8,299.1 549.8,361.1 549.9,346.7 549.9,348.6 550.0,252.8 550.1,297.8 550.1,335.5 550.2,296.5 550.2,358.2 550.3,277.3 550.3,254.4 550.4,285.5 550.5,303.2 550.5,318.2 550.6,345.4 550.6,259.3 550.7,374.2 550.7,310.2 550.8,352.0 550.8,369.6 550.9,290.6 551.0,227.3 551.0,365.4 551.1,278.9 551.1,271.5 551.2,306.5 551.2,280.8 551.3,332.6 551.4,347.8 551.4,343.6 551.5,362.9 551.5,367.4 551.6,240.9 551.6,368.9 551.7,357.3 551.7,287.3 551.8,281.4 551.9,291.6 551.9,252.8 552.0,254.5 552.0,290.4 552.1,337.2 552.1,284.6 552.2,342.6 552.3,358.8 552.3,266.2 552.4,352.9 552.4,342.0 552.5,356.3 552.5,377.3 552.6,349.4 552.6,270.2 552.7,262.2 552.8,362.2 552.8,360.9 552.9,283.6 552.9,316.4 553.0,283.1 553.0,249.4 553.1,354.0 553.2,354.4 553.2,291.6 553.3,341.5 553.3,347.8 553.4,325.8 553.4,338.5 553.5,337.4 553.5,295.1 553.6,322.0 553.7,279.1 553.7,352.0 553.8,336.0 553.8,288.4 553.9,324.5 553.9,297.4 554.0,324.6 554.1,326.7 554.1,288.0 554.2,273.1 554.2,274.8 554.3,313.8 554.3,355.6 554.4,376.5 554.5,339.9 554.5,358.5 554.6,304.1 554.6,312.4 554.7,331.2 554.7,325.0 554.8,355.0 554.8,326.4 554.9,291.4 555.0,355.0 555.0,265.8 555.1,303.2 555.1,340.6 555.2,334.6 555.2,343.8 555.3,313.2 555.4,328.8 555.4,347.6 555.5,334.3 555.5,337.6 555.6,273.1 555.6,304.6 555.7,315.4 555.7,313.7 555.8,304.8 555.9,265.3 555.9,321.4 556.0,358.8 556.0,229.2 556.1,358.1 556.1,338.4 556.2,297.7 556.3,332.8 556.3,273.7 556.4,261.8 556.4,346.7 556.5,276.5 556.5,291.3 556.6,245.9 556.6,339.9 556.7,280.4 556.8,325.2 556.8,339.0 556.9,332.7 556.9,262.0 557.0,309.8 557.0,314.4 557.1,268.6 557.2,270.0 557.2,177.3 557.3,357.7 557.3,255.2 557.4,287.7 557.4,264.7 557.5,275.2 557.5,265.0 557.6,266.2 557.7,291.5 557.7,347.0 557.8,287.9 557.8,234.3 557.9,323.2 557.9,330.3 558.0,329.1 558.1,274.0 558.1,265.7 558.2,263.5 558.2,294.2 558.3,278.1 558.3,347.7 558.4,324.2 558.4,173.8 558.5,313.0 558.6,309.0 558.6,278.6 558.7,338.0 558.7,270.6 558.8,284.2 558.8,353.7 558.9,317.6 559.0,266.8 559.0,333.9 559.1,360.6 559.1,344.4 559.2,306.4 559.2,351.7 559.3,356.7 559.3,348.3 559.4,278.8 559.5,264.7 559.5,348.8 559.6,306.5 559.6,205.6 559.7,355.7 559.7,277.3 559.8,291.0 559.9,298.2 559.9,257.5 560.0,289.6 560.0,287.4 560.1,337.1 560.1,341.8 560.2,276.2 560.2,320.8 560.3,327.7 560.4,283.9 560.4,303.0 560.5,363.5 560.5,370.6 560.6,296.9 560.6,309.9 560.7,286.7 560.8,303.6 560.8,301.9 560.9,302.7 560.9,360.5 561.0,275.3 561.0,377.1 561.1,248.1 561.1,312.9 561.2,313.8 561.3,290.2 561.3,342.8 561.4,326.1 561.4,352.8 561.5,336.5 561.5,320.3 561.6,313.8 561.7,326.1 561.7,301.6 561.8,301.4 561.8,300.3 561.9,322.8 561.9,347.2 562.0,361.7 562.0,323.9 562.1,328.4 562.2,365.0 562.2,355.1 562.3,296.7 562.3,312.1 562.4,301.3 562.4,342.4 562.5,334.9 562.6,324.1 562.6,337.1 562.7,363.4 562.7,332.4 562.8,318.6 562.8,340.5 562.9,300.5 562.9,374.3 563.0,363.9 563.1,286.8 563.1,323.4 563.2,337.4 563.2,297.5 563.3,278.8 563.3,303.7 563.4,342.4 563.5,305.0 563.5,359.5 563.6,307.9 563.6,308.8 563.7,328.1 563.7,346.0 563.8,340.3 563.9,358.2 563.9,348.0 564.0,332.2 564.0,332.0 564.1,335.6 564.1,309.0 564.2,353.0 564.2,315.4 564.3,310.5 564.4,344.0 564.4,363.7 564.5,314.0 564.5,320.1 564.6,336.2 564.6,307.9 564.7,372.7 564.8,321.2 564.8,291.4 564.9,271.7 564.9,318.6 565.0,361.3 565.0,348.7 565.1,337.1 565.1,307.9 565.2,320.8 565.3,364.8 565.3,329.7 565.4,359.9 565.4,344.5 565.5,309.7 565.5,351.9 565.6,362.4 565.7,312.9 565.7,356.0 565.8,333.7 565.8,353.3 565.9,276.4 565.9,324.7 566.0,322.2 566.0,363.1 566.1,376.6 566.2,319.7 566.2,352.3 566.3,363.1 566.3,320.6 566.4,354.1 566.4,336.1 566.5,358.8 566.6,304.1 566.6,342.2 566.7,334.3 566.7,327.3 566.8,318.7 566.8,341.5 566.9,332.6 566.9,353.1 567.0,322.0 567.1,351.7 567.1,368.2 567.2,285.9 567.2,362.7 567.3,336.8 567.3,362.1 567.4,346.8 567.5,353.5 567.5,329.7 567.6,355.8 567.6,358.6 567.7,356.2 567.7,361.2 567.8,371.1 567.8,344.9 567.9,336.5 568.0,365.3 568.0,331.7 568.1,344.6 568.1,323.9 568.2,323.5 568.2,302.4 568.3,342.6 568.4,359.3 568.4,338.6 568.5,365.1 568.5,321.6 568.6,321.0 568.6,345.3 568.7,357.8 568.7,337.6 568.8,329.2 568.9,321.8 568.9,367.1 569.0,354.3 569.0,353.8 569.1,354.7 569.1,330.2 569.2,361.7 569.3,369.9 569.3,371.8 569.4,351.6 569.4,360.9 569.5,351.6 569.5,343.1 569.6,377.8 569.6,367.3 569.7,334.6 569.8,365.2 569.8,360.1 569.9,375.4 569.9,348.0 570.0,363.4 570.0,342.9 570.1,356.0 570.2,340.2 570.2,360.0 570.3,342.5 570.3,370.7 570.4,359.7 570.4,375.4 570.5,358.0 570.5,365.4 570.6,362.7 570.7,337.3 570.7,370.8 570.8,355.6 570.8,340.9 570.9,357.3 570.9,358.1 571.0,377.4 571.1,369.5 571.1,367.3 571.2,349.9 571.2,353.8 571.3,366.6 571.3,339.6 571.4,341.4 571.4,367.8 571.5,348.3 571.6,344.1 571.6,357.3 571.7,369.7 571.7,359.9 571.8,350.3 571.8,354.4 571.9,349.0 572.0,359.7 572.0,375.0 572.1,374.3 572.1,351.4 572.2,359.4 572.2,348.6 572.3,350.8 572.4,356.9 572.4,358.6 572.5,376.0 572.5,370.9 572.6,365.4 572.6,358.0 572.7,361.5 572.7,371.4 572.8,377.5 572.9,372.4 572.9,354.0 573.0,371.4 573.0,359.4 573.1,377.0 573.1,373.1 573.2,375.4 573.3,367.4 573.3,355.8 573.4,354.3 573.4,363.6 573.5,355.9 573.5,377.1 573.6,354.2 573.6,371.9 573.7,370.9 573.8,370.7 573.8,358.5 573.9,377.7 573.9,360.0 574.0,356.2 574.0,376.7 574.1,373.5 574.2,373.8 574.2,370.2 574.3,369.6 574.3,369.0 574.4,373.9 574.4,366.9 574.5,364.6 574.5,361.9 574.6,374.3 574.7,359.3 574.7,372.5 574.8,369.8 574.8,361.6 574.9,374.6 574.9,370.1 575.0,371.4 575.1,375.8 575.1,376.5 575.2,374.0 575.2,369.4 575.3,376.6 575.3,374.4 575.4,377.6 575.4,370.5 575.5,373.6 575.6,364.1 575.6,377.7 575.7,372.9 575.7,366.7 575.8,377.0 575.8,373.6 575.9,365.9 576.0,371.2 576.0,376.4 576.1,376.5 576.1,366.6 576.2,364.6 576.2,367.5 576.3,374.8 576.3,371.1 576.4,375.1 576.5,366.2 576.5,369.2 576.6,367.5 576.6,372.6 576.7,369.9 576.7,376.8 576.8,371.7 576.9,370.5 576.9,377.9 577.0,375.2 577.0,377.7 577.1,372.1 577.1,370.9 577.2,373.1 577.2,376.3 577.3,377.9 577.4,376.0 577.4,370.5 577.5,372.3 577.5,373.0 577.6,372.2 577.6,370.2 577.7,370.6 577.8,377.9 577.8,377.6 577.9,370.5 577.9,375.2 578.0,372.6 578.0,370.5 578.1,372.2 578.1,372.6 578.2,377.9 578.3,372.9 578.3,377.7 578.4,377.6 578.4,374.4 578.5,371.8 578.5,371.3 578.6,377.6 578.7,377.9 578.7,377.0 578.8,372.3 578.8,375.4 578.9,375.9 578.9,375.2 579.0,375.6 579.0,374.7 579.1,377.4 579.2,377.9 579.2,376.3 579.3,377.2 579.3,372.4 579.4,377.0 579.4,372.9 579.5,377.9 579.6,372.5 579.6,377.1 579.7,374.8 579.7,374.2 579.8,371.6 579.8,375.1 579.9,375.4 579.9,372.1 580.0,376.1 580.1,375.5 580.1,377.8 580.2,374.6 580.2,373.4 580.3,374.3 580.3,374.2 580.4,374.5 580.5,376.9 580.5,373.7 580.6,377.5 580.6,375.8 580.7,374.3 580.8,374.8 580.9,376.9 581.0,376.7 581.1,375.7 581.2,376.4 581.3,377.3 581.4,376.9 581.5,375.2 581.6,376.2 581.7,376.1 581.8,377.5 581.9,377.8 582.1,374.4 582.2,375.2 582.3,376.4 582.4,377.9 582.5,375.9 582.6,376.6 582.7,377.6 582.8,377.8 582.9,375.8 583.0,375.6 583.1,377.7 583.2,375.7 583.3,377.8 583.4,375.5 583.5,376.5 583.6,376.6 583.7,375.2 583.8,375.9 584.0,376.5 584.1,377.9 584.2,376.7 584.3,377.2 584.4,375.8 584.5,375.8 584.6,374.8 584.7,377.2 584.8,375.4 584.9,375.9 585.0,377.5 585.1,376.3 585.2,376.5 585.3,377.8 585.4,376.2 585.5,377.7 585.6,376.3 585.7,376.4 585.9,375.8 586.0,377.2 586.1,377.9 586.2,376.2 586.3,377.8 586.4,377.9 586.5,377.9 586.6,375.9 586.7,376.9 586.8,375.7 586.9,375.7 587.0,377.0 587.1,377.1 587.2,376.5 587.3,375.7 587.4,375.9 587.5,377.5 587.6,375.9 587.8,376.9 587.9,377.3 588.0,377.1 588.1,377.4 588.2,377.3 588.3,376.3 588.4,377.1 588.5,377.9 588.6,375.8 588.7,377.9 588.8,377.1 588.9,376.7 589.0,377.9 589.1,377.3 589.2,377.9 589.3,376.7 589.4,377.2 589.5,376.3 589.7,376.1 589.8,377.2 589.9,377.2 590.0,375.9 590.1,376.3 590.2,377.9 590.3,377.9 590.4,376.1 590.5,376.7 590.6,377.0 590.7,377.4 590.8,376.5 590.9,376.4 591.0,377.1 591.1,377.9 591.2,376.6 591.3,377.4 591.4,377.9 591.6,377.7 591.7,376.9 591.8,376.9 591.9,376.5 592.0,376.5 592.1,376.8 592.2,377.9 592.3,377.7 592.4,377.9 592.5,376.3 592.6,377.8 592.7,376.4 592.8,377.0 592.9,376.7 593.0,377.9 593.1,377.2 593.2,376.2 593.3,377.6 593.5,377.5 593.6,377.2 593.7,377.0 593.8,377.8 593.9,377.8 594.0,377.9 594.1,377.9 594.2,377.5 594.3,377.4 594.4,377.5 594.5,376.3 594.6,377.5 594.7,376.8 594.8,377.6 594.9,376.3 595.0,376.6 595.1,377.5 595.2,377.9 595.4,377.0 595.5,377.9 595.6,376.4 595.7,377.5 595.8,376.7 595.9,377.7 596.0,377.1 596.1,377.3 596.2,376.7 596.3,377.4 596.4,377.7 596.5,376.2 596.6,377.8 596.7,376.2 596.8,377.3 596.9,376.4 597.0,377.0 597.1,376.3 597.3,377.1 597.4,377.6 597.5,377.5 597.6,377.2 597.7,377.7 597.8,376.8 597.9,377.8 598.0,377.1 598.1,376.9 598.2,376.2 598.3,377.2 598.4,376.3 598.5,377.0 598.6,376.8 598.7,376.4 598.8,376.9 598.9,376.2 599.0,376.3 599.2,377.2 599.3,376.6 599.4,376.0 599.5,377.5 599.6,376.3 599.7,377.4 599.8,376.2 599.9,377.6 600.0,377.0 600.1,377.6 600.2,376.5 600.3,376.6 600.4,377.3 600.5,377.9 600.6,376.1 600.7,376.6 600.8,376.8 600.9,377.9 601.1,377.9 601.2,377.7 601.3,376.3 601.4,377.2 601.5,376.5 601.6,376.2 601.7,376.1 601.8,376.0 601.9,376.2 602.0,377.3 602.1,376.4 602.2,376.5 602.3,377.1 602.4,376.3 602.5,377.0 602.6,377.6 602.7,376.7 602.8,377.6 603.0,376.0 603.1,377.7 603.2,377.3 603.3,377.1 603.4,377.7 603.5,377.1 603.6,377.0 603.7,377.9 603.8,377.7 603.9,376.9 604.0,377.3 604.1,376.2 604.2,377.8 604.3,376.0 604.4,377.7 604.5,377.8 604.6,376.8 604.7,376.0 604.9,376.6 605.0,377.5 605.1,376.7 605.2,376.8 605.3,377.8 605.4,376.7 605.5,376.2 605.6,376.2 605.7,377.2 605.8,377.3 605.9,377.0 606.0,377.9 606.1,377.7 606.2,377.6 606.3,377.6 606.4,376.5 606.5,376.6 606.6,376.0 606.8,377.3 606.9,377.1 607.0,375.7 607.1,377.2 607.2,377.9 607.3,377.5 607.4,376.2 607.5,377.6 607.6,376.1 607.7,377.1 607.8,376.4 607.9,376.3 608.0,377.4 608.1,377.3 608.2,377.8 608.3,376.9 608.4,377.0 608.5,376.6 608.6,377.6 608.8,377.3 608.9,377.1 609.0,376.4 609.1,377.2 609.2,375.5 609.3,376.7 609.4,377.9 609.5,376.2 609.6,377.3 609.7,376.1 609.8,377.0 609.9,376.0 610.0,376.7 610.1,376.0 610.2,376.6 610.3,377.7 610.4,377.9 610.5,377.8 610.7,376.1 610.8,375.9 610.9,377.7 611.0,376.1 611.1,376.8 611.2,376.4 611.3,377.9 611.4,377.2 611.5,376.0 611.6,377.9 611.7,375.6 611.8,375.3 611.9,377.9 612.0,377.4 612.1,375.9 612.2,377.3 612.3,375.6 612.4,376.2 612.6,375.9 612.7,376.4 612.8,377.7 612.9,377.7 613.0,376.4 613.1,376.2 613.2,376.0 613.3,376.3 613.4,375.7 613.5,377.2 613.6,377.1 613.7,377.8 613.8,376.0 613.9,377.4 614.0,376.3 614.1,376.4 614.2,376.3 614.3,377.9 614.5,377.9 614.6,376.0 614.7,375.8 614.8,377.7 614.9,375.7 615.0,376.5 615.1,376.1 615.2,375.9 615.3,376.1 615.4,376.9 615.5,376.4 615.6,377.8 615.7,377.1 615.8,376.9 615.9,377.9 616.0,376.1 616.1,376.2 616.2,376.9 616.4,377.3 616.5,377.7 616.6,375.3 616.7,377.7 616.8,377.8 616.9,377.2 617.0,375.9 617.1,377.8 617.2,377.8 617.3,377.3 617.4,377.0 617.5,376.3 617.6,377.4 617.7,377.1 617.8,376.2 617.9,377.4 618.0,377.4 618.1,377.9 618.3,376.4 618.4,377.9 618.5,376.2 618.6,376.5 618.7,377.8 618.8,377.7 618.9,377.4 619.0,376.3 619.1,377.2 619.2,377.8 619.3,375.9 619.4,377.1 619.5,377.8 619.6,376.3 619.7,376.4 619.8,377.3 619.9,377.7 620.0,376.4 620.2,377.8 620.3,376.4 620.4,376.9 620.5,376.1 620.6,377.2 620.7,376.1 620.8,376.7 620.9,377.3 621.0,376.6 621.1,377.1 621.2,377.2 621.3,377.5 621.4,376.8 621.5,377.1 621.6,377.2 621.7,377.8 621.8,376.1 621.9,377.9 622.1,376.0 622.2,377.5 622.3,377.9 622.4,376.0 622.5,376.6 622.6,376.4 622.7,377.1 622.8,377.9 622.9,376.4 623.0,375.6 623.1,377.1 623.2,377.7 623.3,377.3 623.4,376.1 623.5,377.9 623.6,377.9 623.7,377.6 623.8,376.5 624.0,376.4 624.1,377.0 624.2,376.5 624.3,376.1 624.4,377.4 624.5,376.9 624.6,376.3 624.7,377.7 624.8,376.5 624.9,377.4 625.0,377.5 625.1,377.9 625.2,377.0 625.3,376.8 625.4,377.4 625.5,376.9 625.6,377.9 625.7,376.8 625.9,377.1 626.0,377.8 626.1,376.9 626.2,376.8 626.3,377.2 626.4,377.0 626.5,376.9 626.6,377.1 626.7,377.7 626.8,377.8 626.9,377.2 627.0,376.7 627.1,376.4 627.2,377.0 627.3,377.0 627.4,376.7 627.5,377.4 627.6,375.9 627.8,377.1 627.9,377.4 628.0,376.4 628.1,377.4 628.2,376.9 628.3,377.4 628.4,376.4 628.5,376.9 628.6,377.8 628.7,376.8 628.8,377.6 628.9,377.1 629.0,376.9 629.1,377.9 629.2,376.8 629.3,377.1 629.4,376.2 629.5,377.9 629.7,377.1 629.8,377.9 629.9,376.7 630.0,377.4 630.1,377.8 630.2,377.2 630.3,377.4 630.4,377.2 630.5,377.8 630.6,377.8 630.7,377.2 630.8,377.0 630.9,377.2 631.0,377.9 631.1,377.2 631.2,376.9 631.3,376.9 631.4,377.0 631.6,377.4 631.7,376.9 631.8,377.5 631.9,376.9 632.0,377.8 632.1,377.8 632.2,377.7 632.3,377.3 632.4,377.0 632.5,377.8 632.6,377.4 632.7,377.9 632.8,377.5 632.9,377.2 633.0,377.2 633.1,377.2 633.2,377.9 633.3,377.9 633.5,377.3 633.6,377.3 633.7,377.6 633.8,377.1 633.9,377.3 634.0,377.5 634.1,377.2 634.2,377.9 634.3,377.6 634.4,377.2 634.5,377.6 634.6,377.9 634.7,377.9 634.8,377.6 634.9,377.8 635.0,377.8 635.1,377.8 635.2,377.8 635.4,377.9 635.5,377.9 635.6,377.9 635.7,377.9 635.8,377.9 635.9,377.9 636.0,377.9 636.1,377.9 636.2,377.9 636.3,377.9 636.4,377.9 636.5,377.9 636.6,377.9 636.7,377.9 636.8,377.9 636.9,377.9 637.0,377.9 637.1,377.9 637.3,377.9 637.4,377.9 637.5,377.9 637.6,377.9 637.7,377.9 637.8,377.9 637.9,377.9 638.0,377.9 638.1,377.9 638.2,377.9 638.3,377.9 638.4,377.9 638.5,377.9 638.6,377.9 638.7,377.9 638.8,377.9 638.9,377.9 639.0,377.9 639.2,377.9 639.3,377.9 639.4,377.9 639.5,377.9 639.6,377.9 639.7,377.9 639.8,377.9 639.9,377.9 640.0,377.9 640.1,377.9 640.2,377.9 640.3,377.9 640.4,377.9 640.5,377.9 640.6,377.9 640.7,377.9 640.8,377.9 640.9,377.9 641.1,377.9 641.2,377.9 641.3,377.9 641.4,377.9 641.5,377.9 641.6,377.9 641.7,377.9 641.8,377.9 641.9,377.9 642.0,377.9 642.1,377.9 642.2,377.9 642.3,377.9 642.4,377.9 642.5,377.9 642.6,377.9 642.7,377.9 642.8,377.9 643.0,377.9 643.1,377.9 643.2,377.9 643.3,377.9 643.4,377.9 643.5,377.9 643.6,377.9 643.7,377.9 643.8,377.9 643.9,377.9 644.0,377.9 644.1,377.9 644.2,377.9 644.3,377.9 644.4,377.9 644.5,377.9 644.6,377.9 644.7,377.9 644.9,377.9 645.0,377.9 645.1,377.9 645.2,377.9 645.3,377.9 645.4,377.9 645.5,377.9 645.6,377.9 645.7,377.9 645.8,377.9 645.9,377.9 646.0,377.9 646.1,377.9 646.2,377.9 646.3,377.9 646.4,377.9 646.5,377.9 646.6,377.9 646.8,377.9 646.9,377.9 647.0,377.9 647.1,377.9 647.2,377.9 647.3,377.9 647.4,377.9 647.5,377.9 647.6,377.9 647.7,377.9 647.8,377.9 647.9,377.9 648.0,377.9 648.1,377.9 648.2,377.9 648.3,377.9 648.4,377.9 648.5,377.9 648.7,377.9 648.8,377.9 648.9,377.9 649.0,377.9 649.1,377.9 649.2,377.9 649.3,377.9 649.4,377.9 649.5,377.9 649.6,377.9 649.7,377.9 649.8,377.9 649.9,377.9 650.0,377.9 650.1,377.9 650.2,377.9 650.3,377.9 650.4,377.9 650.6,377.9 650.7,377.9 650.8,377.9 650.9,377.9 651.0,377.9 651.1,377.9 651.2,377.9 651.3,377.9 651.4,377.9 651.5,377.9 651.6,377.9 651.7,377.9 651.8,377.9 651.9,377.9 652.0,377.9 652.1,377.9 652.2,377.9 652.3,377.9 652.5,377.9 652.6,377.9 652.7,377.9 652.8,377.9 652.9,377.9 653.0,377.9 653.1,377.9 653.2,377.9 653.3,377.9 653.4,377.9 653.5,377.9 653.6,377.9 653.7,377.9 653.8,377.9 653.9,377.9 654.0,377.9 654.1,377.9 654.2,377.9 654.4,377.9 654.5,377.9 654.6,377.9 654.7,377.9 654.8,377.9 654.9,377.9 655.0,377.9 655.1,377.9 655.2,377.9 655.3,377.9 655.4,377.9 655.5,377.9 655.6,377.9 655.7,377.9 655.8,377.9 655.9,377.9 656.0,377.9 656.1,377.9 656.2,377.9 656.4,377.9 656.5,377.9 656.6,377.9 656.7,377.9 656.8,377.9 656.9,377.9 657.0,377.9 657.1,377.9 657.2,377.9 657.3,377.9 657.4,377.9 657.5,377.9 657.6,377.9 657.7,377.9 657.8,377.9 657.9,377.9 658.0,377.9 658.1,377.9 658.3,377.9 658.4,377.9 658.5,377.9 658.6,377.9 658.7,377.9 658.8,377.9 658.9,377.9 659.0,377.9 659.1,377.9 659.2,377.9 659.3,377.9 659.4,377.9 659.5,377.9 659.6,377.9 659.7,377.9 659.8,377.9 659.9,377.9 660.0,377.9 660.2,377.9 660.3,377.9 660.4,377.9 660.5,377.9 660.6,377.9 660.7,377.9 660.8,377.9 660.9,377.9 661.0,377.9 661.1,377.9 661.2,377.9 661.3,377.9 661.4,377.9 661.5,377.9 661.6,377.9 661.7,377.9 661.8,377.9 661.9,377.9 662.1,377.9 662.2,377.9 662.3,377.9 662.4,377.9 662.5,377.9 662.6,377.9 662.7,377.9 662.8,377.9 662.9,377.9 663.0,377.9 663.1,377.9 663.2,377.9 663.3,377.9 663.4,377.9 663.5,377.9 663.6,377.9 663.7,377.9 663.8,377.9 664.0,377.9 664.1,377.9 664.2,377.9 664.3,377.9 664.4,377.9 664.5,377.9 664.6,377.9 664.7,377.9 664.8,377.9 664.9,377.9 665.0,377.9 665.1,377.9 665.2,377.9 665.3,377.9 665.4,377.9 665.5,377.9 665.6,377.9 665.7,377.9 665.9,377.9 666.0,377.9 666.1,377.9 666.2,377.9 666.3,377.9 666.4,377.9 666.5,377.9 666.6,377.9 666.7,377.9 666.8,377.9 666.9,377.9 667.0,377.9 667.1,377.9 667.2,377.9 667.3,377.9 667.4,377.9 667.5,377.9 667.6,377.9 667.8,377.9 667.9,377.9 668.0,377.9 668.1,377.9 668.2,377.9 668.3,377.9 668.4,377.9 668.5,377.9 668.6,377.9 668.7,377.9 668.8,377.9 668.9,377.9 669.0,377.9 669.1,377.9 669.2,377.9 669.3,377.9 669.4,377.9 669.5,377.9 669.7,377.9 669.8,377.9 669.9,377.9 670.0,377.9 670.1,377.9 670.2,377.9 670.3,377.9 670.4,377.9 670.5,377.9 670.6,377.9 670.7,377.9 670.8,377.9 670.9,377.9 671.0,377.9 671.1,377.9 671.2,377.9 671.3,377.9 671.4,377.9 671.6,377.9 671.7,377.9 671.8,377.9 671.9,377.9 672.0,377.9 672.1,377.9 672.2,377.9 672.3,377.9 672.4,377.9 672.5,377.9 672.6,377.9 672.7,377.9 672.8,377.9 672.9,377.9 673.0,377.9 673.1,377.9 673.2,377.9 673.3,377.9 673.5,377.9 673.6,377.9 673.7,377.9 673.8,377.9 673.9,377.9 674.0,377.9 674.1,377.9 674.2,377.9 674.3,377.9 674.4,377.9 674.5,377.9 674.6,377.9 674.7,377.9 674.8,377.9 674.9,377.9 675.0,377.9 675.1,377.9 675.2,377.9 675.4,377.9 675.5,377.9 675.6,377.9 675.7,377.9 675.8,377.9 675.9,377.9 676.0,377.9 676.1,377.9 676.2,377.9 676.3,377.9 676.4,377.9 676.5,377.9 676.6,377.9 676.7,377.9 676.8,377.9 676.9,377.9 677.0,377.9 677.1,377.9 677.3,377.9 677.4,377.9 677.5,377.9 677.6,377.9 677.7,377.9 677.8,377.9 677.9,377.9 678.0,377.9 678.1,377.9 678.2,377.9 678.3,377.9 678.4,377.9 678.5,377.9 678.6,377.9 678.7,377.9 678.8,377.9 678.9,377.9 679.0,377.9 679.2,377.9 679.3,377.9 679.4,377.9 679.5,377.9 679.6,377.9 679.7,377.9 679.8,377.9 679.9,377.9 680.0,377.9 680.1,377.9 680.2,377.9 680.3,377.9 680.4,377.9 680.5,377.9 680.6,377.9 680.7,377.9 680.8,377.9 680.9,377.9 681.1,377.9 681.2,377.9 681.3,377.9 681.4,377.9 681.5,377.9 681.6,377.9 681.7,377.9 681.8,377.9 681.9,377.9 682.0,377.9 682.1,377.9 682.2,377.9 682.3,377.9 682.4,377.9 682.5,377.9 682.6,377.9 682.7,377.9 682.8,377.9 683.0,377.9 683.1,377.9 683.2,377.9 683.3,377.9 683.4,377.9 683.5,377.9 683.6,377.9 683.7,377.9 683.8,377.9 683.9,377.9 684.0,377.9 684.1,377.9 684.2,377.9 684.3,377.9 684.4,377.9 684.5,377.9 684.6,377.9 684.7,377.9 684.9,377.9 685.0,377.9 685.1,377.9 685.2,377.9 685.3,377.9 685.4,377.9 685.5,377.9 685.6,377.9 685.7,377.9 685.8,377.9 685.9,377.9 686.0,377.9 686.1,377.9 686.2,377.9 686.3,377.9 686.4,377.9 686.5,377.9 686.6,377.9 686.8,377.9 686.9,377.9 687.0,377.9 687.1,377.9 687.2,377.9 687.3,377.9 687.4,377.9 687.5,377.9 687.6,377.9 687.7,377.9 687.8,377.9 687.9,377.9 688.0,377.9 688.1,377.9 688.2,377.9 688.3,377.9 688.4,377.9 688.5,377.9 688.7,377.9 688.8,377.9" fill="none" stroke="#0000ff" stroke-width="0.8"/>
<rect x="403.6" y="160.2" width="286.00" height="225.30" fill="none" stroke="#6a6a6a" stroke-width="1.5"/>
<text transform="translate(415.20,395.6) scale(0.92,1)" font-size="8.8" text-anchor="middle" fill="#3c3c3c" >800</text>
<text transform="translate(447.77,395.6) scale(0.92,1)" font-size="8.8" text-anchor="middle" fill="#3c3c3c" >850</text>
<text transform="translate(480.35,395.6) scale(0.92,1)" font-size="8.8" text-anchor="middle" fill="#3c3c3c" >900</text>
<text transform="translate(512.92,395.6) scale(0.92,1)" font-size="8.8" text-anchor="middle" fill="#3c3c3c" >950</text>
<text transform="translate(545.50,395.6) scale(0.92,1)" font-size="8.8" text-anchor="middle" fill="#3c3c3c" >1000</text>
<text transform="translate(578.08,395.6) scale(0.92,1)" font-size="8.8" text-anchor="middle" fill="#3c3c3c" >1050</text>
<text transform="translate(610.65,395.6) scale(0.92,1)" font-size="8.8" text-anchor="middle" fill="#3c3c3c" >1100</text>
<text transform="translate(643.22,395.6) scale(0.92,1)" font-size="8.8" text-anchor="middle" fill="#3c3c3c" >1150</text>
<text transform="translate(675.80,395.6) scale(0.92,1)" font-size="8.8" text-anchor="middle" fill="#3c3c3c" >1200</text>
<text transform="translate(400,381.05) scale(0.92,1)" font-size="8.8" text-anchor="end" fill="#3c3c3c" >0</text>
<text transform="translate(400,357.45) scale(0.92,1)" font-size="8.8" text-anchor="end" fill="#3c3c3c" >0.5</text>
<text transform="translate(400,333.85) scale(0.92,1)" font-size="8.8" text-anchor="end" fill="#3c3c3c" >1</text>
<text transform="translate(400,310.25) scale(0.92,1)" font-size="8.8" text-anchor="end" fill="#3c3c3c" >1.5</text>
<text transform="translate(400,286.65) scale(0.92,1)" font-size="8.8" text-anchor="end" fill="#3c3c3c" >2</text>
<text transform="translate(400,263.05) scale(0.92,1)" font-size="8.8" text-anchor="end" fill="#3c3c3c" >2.5</text>
<text transform="translate(400,239.45) scale(0.92,1)" font-size="8.8" text-anchor="end" fill="#3c3c3c" >3</text>
<text transform="translate(400,215.85) scale(0.92,1)" font-size="8.8" text-anchor="end" fill="#3c3c3c" >3.5</text>
<text transform="translate(400,192.25) scale(0.92,1)" font-size="8.8" text-anchor="end" fill="#3c3c3c" >4</text>
<text transform="translate(400,168.65) scale(0.92,1)" font-size="8.8" text-anchor="end" fill="#3c3c3c" >4.5</text>
<path d="M415.20,385.5 v-3.5 M415.20,160.2 v3.5 M447.77,385.5 v-3.5 M447.77,160.2 v3.5 M480.35,385.5 v-3.5 M480.35,160.2 v3.5 M512.92,385.5 v-3.5 M512.92,160.2 v3.5 M545.50,385.5 v-3.5 M545.50,160.2 v3.5 M578.08,385.5 v-3.5 M578.08,160.2 v3.5 M610.65,385.5 v-3.5 M610.65,160.2 v3.5 M643.22,385.5 v-3.5 M643.22,160.2 v3.5 M675.80,385.5 v-3.5 M675.80,160.2 v3.5 M403.6,377.90 h3.5 M689.6,377.90 h-3.5 M403.6,354.30 h3.5 M689.6,354.30 h-3.5 M403.6,330.70 h3.5 M689.6,330.70 h-3.5 M403.6,307.10 h3.5 M689.6,307.10 h-3.5 M403.6,283.50 h3.5 M689.6,283.50 h-3.5 M403.6,259.90 h3.5 M689.6,259.90 h-3.5 M403.6,236.30 h3.5 M689.6,236.30 h-3.5 M403.6,212.70 h3.5 M689.6,212.70 h-3.5 M403.6,189.10 h3.5 M689.6,189.10 h-3.5 M403.6,165.50 h3.5 M689.6,165.50 h-3.5" stroke="#6a6a6a" stroke-width="1.2" fill="none"/>
<text x="403.4" y="155.5" font-size="8.6" fill="#3c3c3c" >x</text>
<text transform="translate(409.9,155.5) scale(0.92,1)" font-size="8.8" fill="#3c3c3c" >10</text>
<text x="419.3" y="151.3" font-size="6" fill="#3c3c3c" >4</text>
<text transform="translate(518.5,409.8) scale(0.975,1)" font-size="12.6" fill="#3c3c3c" >Frequenz</text>
<text transform="translate(381.4,298) rotate(-90)" font-size="13" fill="#3c3c3c">EKG-AM</text>
</svg>
</body></html>
